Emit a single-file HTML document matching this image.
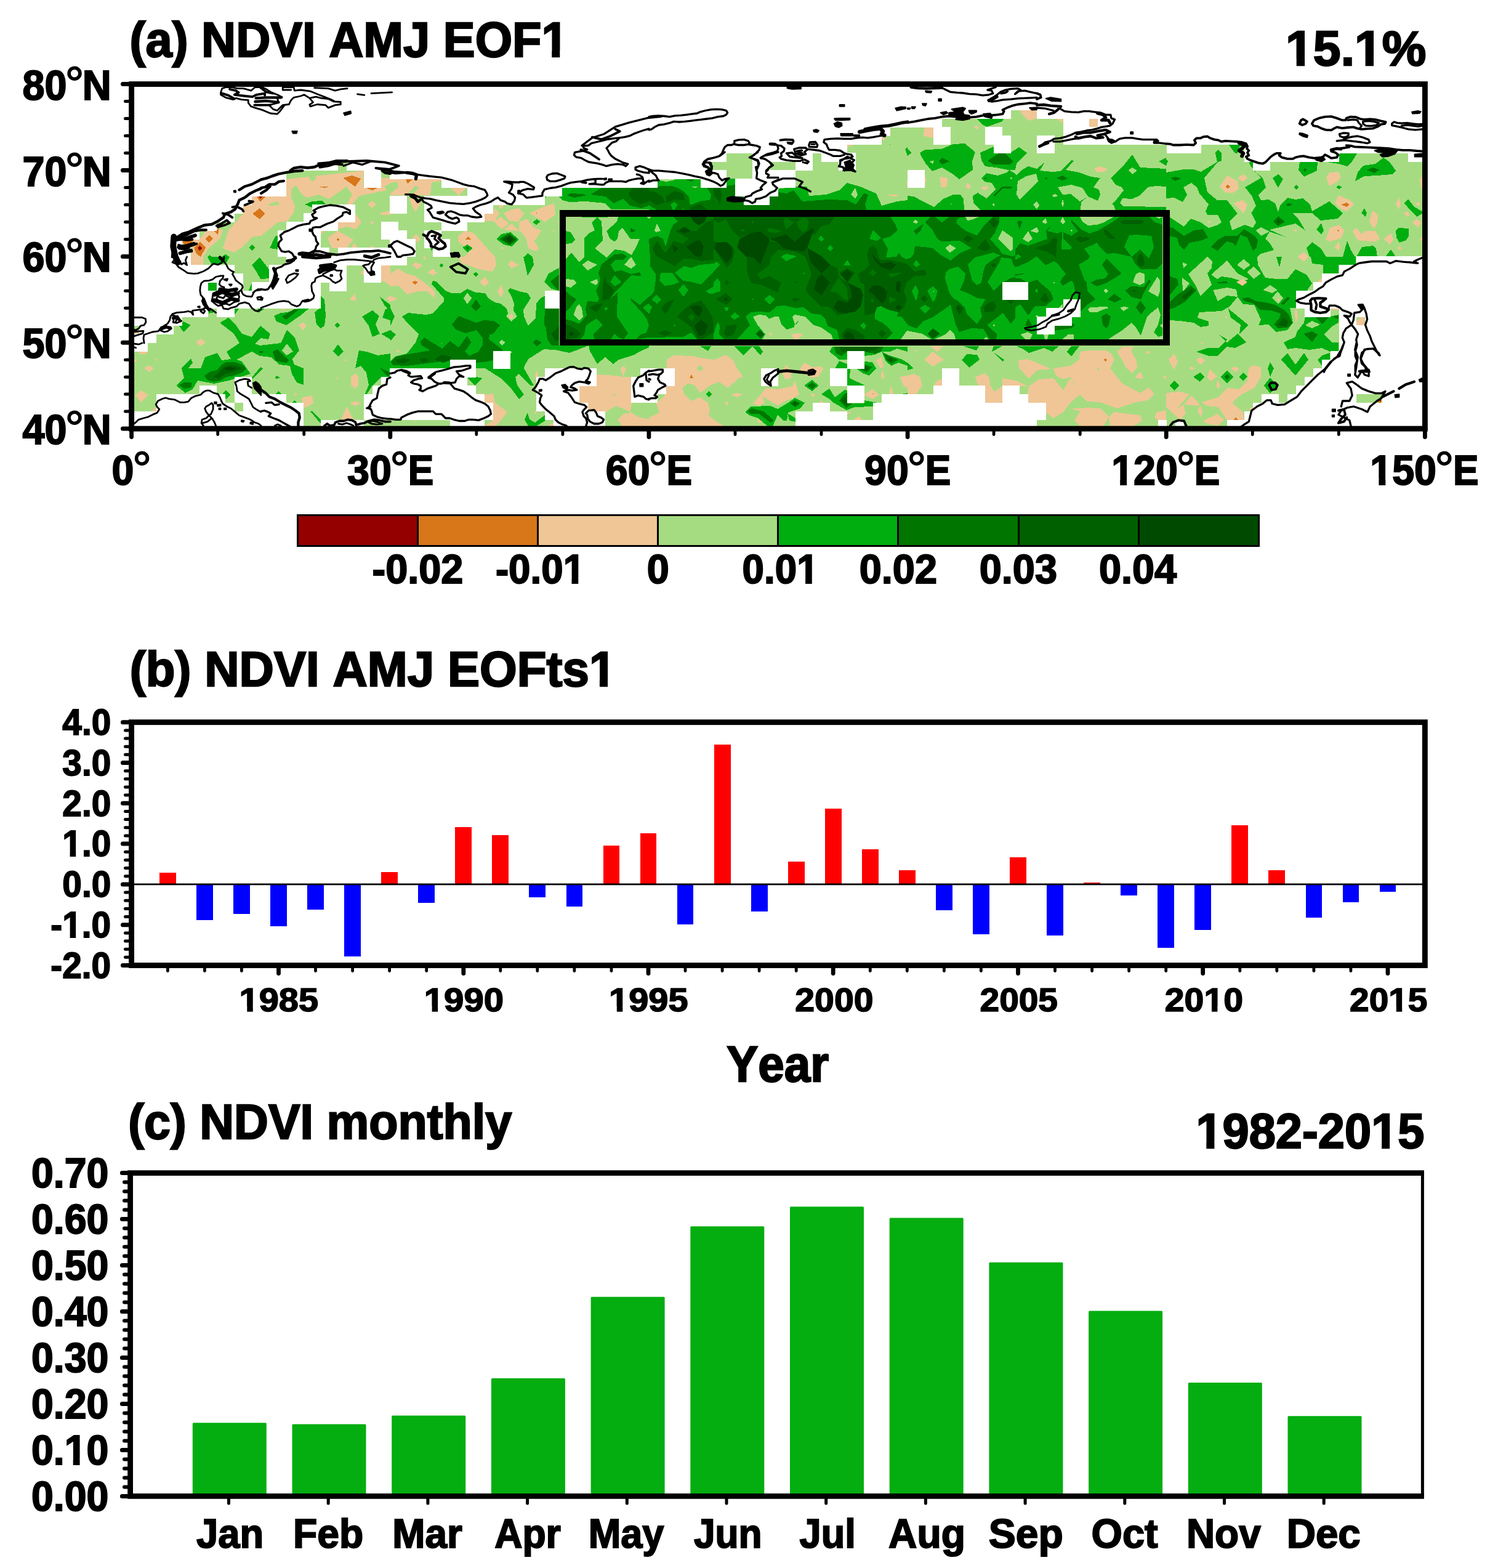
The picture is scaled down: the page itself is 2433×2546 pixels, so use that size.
<!DOCTYPE html>
<html lang="en"><head><meta charset="utf-8"><title>NDVI AMJ EOF1</title>
<style>html,body{margin:0;padding:0;background:#fff}svg{display:block}</style></head>
<body>
<svg width="2433" height="2546" viewBox="0 0 2433 2546">
<rect width="2433" height="2546" fill="#fff"/>
<clipPath id="mc"><rect x="213.6" y="136.6" width="2100.8" height="559.5"/></clipPath>
<g id="map" clip-path="url(#mc)" shape-rendering="crispEdges">
<rect x="213.6" y="136.6" width="2100.8" height="559.5" fill="#A5DC82"/>
<path fill="#F0C696" d="M310 417 313 403 296 397 296 390 324 388 335 375 353 370 362 374 357 388 339 403 330 417ZM362 403 371 374 395 347 395 334 409 319 465 319 465 291 590 277 590 303 604 309 618 303 618 289 634 289 634 298 624 303 628 309 583 318 572 332 563 332 572 316 563 303 534 323 518 316 498 321 489 314 480 300 473 307 473 321 479 334 478 343 467 359 451 361 424 383 411 384 391 403 380 410 368 406Z"/>
<path fill="#A5DC82" d="M501 289 507 284 515 289 507 295ZM435 332 451 327 454 333 438 334Z"/>
<path fill="#F0C696" d="M577 346 587 361 578 372 563 368 549 372 549 361 576 361ZM532 386 549 375 574 389 563 403 539 403ZM520 375 527 375 520 381ZM570 403 576 394 581 403ZM599 403 604 398 608 403ZM597 332 605 326 610 332 605 338ZM616 346 634 342 634 349 619 349ZM601 361 605 359 607 361 605 364Z"/>
<path fill="#D8761A" d="M557 289 572 285 586 290 577 303ZM518 303 535 303 527 305ZM592 304 615 304 605 309ZM410 347 422 338 430 347 422 356ZM415 317 433 317 423 328ZM333 388 340 382 346 388 339 394ZM347 375 356 371 354 381ZM315 402 325 393 334 402 326 417 319 412ZM296 392 315 388 310 397 299 397ZM546 389 549 386 551 389 549 392Z"/>
<path fill="#940000" d="M419 317 428 317 423 323ZM321 402 325 399 328 403 324 407Z"/>
<path fill="#00AE10" d="M495 332 507 327 523 326 530 332 507 332 507 337ZM438 403 447 384 452 382 452 405ZM404 402 409 397 414 402 409 407ZM337 417 340 414 345 417ZM360 417 366 413 373 417ZM357 524 371 516 384 529 393 542 409 547 423 529 439 542 436 551 424 549 414 558 422 561 456 557 466 536 479 549 486 569 475 583 478 592 493 598 493 625 482 621 474 607 471 594 454 592 440 580 422 578 409 571 384 584 393 587 407 607 371 618 348 623 321 618 313 632 301 638 286 626 299 614 295 598 310 582 313 589 306 598 326 598 333 580 353 573 360 585 375 583 368 571 389 557 380 542ZM338 459 353 459 353 473 338 473ZM409 430 422 418 438 439 438 452 423 453 417 442ZM290 528 298 522 310 528 298 539ZM445 513 456 508 467 507 486 500 503 500 487 513 465 528 449 522ZM520 480 527 486 529 513 527 529 521 533 514 527 511 507 520 500ZM588 514 605 504 616 513 610 527 617 542 605 547 599 529ZM617 482 634 495 634 507 624 495ZM626 502 634 500 634 520 621 516ZM619 542 634 536 634 551ZM583 569 595 571 613 577 634 574 634 612 619 613 605 626 595 641 592 641 599 625 595 605 586 594 577 598ZM548 523 552 528 548 533 544 528ZM549 559 558 571 549 579 541 570ZM449 610 455 613 449 615 446 613ZM362 639 367 633 374 641 367 648ZM447 641 452 635 458 641ZM474 655 478 650 483 655ZM504 668 507 667 521 682 521 688ZM337 417 373 417 368 426 357 430 344 430ZM381 500 389 500 381 511ZM418 500 431 500 420 508ZM403 473 409 460 409 473ZM338 500 348 507 339 509ZM408 614 423 596 427 598 411 615Z"/>
<path fill="#A5DC82" d="M466 558 476 571 465 577 458 569Z"/>
<path fill="#007600" d="M332 610 342 603 353 601 360 592 368 588 382 588 393 592 400 598 393 605 380 610 368 612 357 618 346 620 337 617ZM443 571 451 567 458 575 470 585 465 589 448 586 445 578ZM291 625 299 621 311 621 311 629 299 631ZM421 570 427 570 427 573 421 573ZM458 514 478 502 485 503 465 519ZM617 597 634 605 634 612 628 610Z"/>
<path fill="#006000" d="M346 612 355 606 362 597 371 593 384 594 393 598 380 604 366 607 355 615Z"/>
<path fill="#004A00" d="M365 597 375 596 384 598 373 602 366 601Z"/>
<path fill="#F0C696" d="M310 417 330 417 330 430 310 430ZM318 556 326 550 334 556 326 562ZM234 598 242 593 250 598 242 604ZM220 641 229 634 241 641 229 654ZM484 528 492 524 498 528 493 536ZM567 486 577 476 578 489ZM570 612 577 607 582 612 582 625 577 631 570 625ZM490 646 507 642 509 655 493 663ZM554 681 563 660 572 677 577 683ZM568 655 577 651 586 655 577 659ZM619 430 634 430 634 464 624 457 619 457ZM585 443 591 437 591 447ZM218 539 232 539 227 542 218 542ZM225 571 240 571 236 575 227 575ZM253 582 255 584 254 587ZM559 585 564 583 563 587ZM546 612 550 614 549 617ZM476 641 480 638 484 641ZM218 583 223 585 218 589ZM245 668 254 661 254 669ZM451 500 467 500 460 503ZM628 484 634 480 634 491ZM464 570 467 571 464 572ZM634 291 718 291 718 294 701 296 699 317 634 317Z"/>
<path fill="#A5DC82" d="M634 297 645 295 647 304 634 314ZM663 314 674 302 681 304 671 314Z"/>
<path fill="#F0C696" d="M730 304 759 304 745 317Z"/>
<path fill="#D8761A" d="M658 289 673 289 662 298Z"/>
<path fill="#F0C696" d="M664 321 685 327 675 344 669 334ZM786 346 801 346 804 338 811 346 804 359 786 359ZM809 332 819 332 813 340ZM818 346 831 340 843 338 851 347 842 360 827 359ZM802 360 813 352 827 363 815 372ZM818 373 831 363 843 375ZM843 361 856 355 867 370 879 374 871 388 867 390 875 403 871 408 858 403 855 388 849 379 843 375ZM860 346 880 337 900 330 902 349 885 360 871 353Z"/>
<path fill="#D8761A" d="M870 346 871 345 872 346 871 347Z"/>
<path fill="#F0C696" d="M744 383 755 375 768 378 777 387 791 403 804 417 755 417 764 406 750 397 744 392Z"/>
<path fill="#D8761A" d="M755 389 760 384 766 389Z"/>
<path fill="#F0C696" d="M670 386 675 380 683 388 678 394ZM812 402 820 402 815 405ZM898 372 900 375 898 377ZM904 360 908 360 906 362Z"/>
<path fill="#00AE10" d="M913 304 1054 304 1054 340 1021 340 992 340 983 330 952 327 925 328 913 325 906 317 913 317Z"/>
<path fill="#007600" d="M959 316 977 305 1054 304 1054 334 1041 338 1024 334 1012 323 997 330 983 319Z"/>
<path fill="#006000" d="M1021 314 1028 305 1054 305 1054 327 1039 332 1026 323Z"/>
<path fill="#007600" d="M921 317 927 314 947 315 952 317 932 321Z"/>
<path fill="#00AE10" d="M918 374 927 377 934 388 927 397 918 397ZM960 361 970 353 977 361 974 374 979 386 965 401 954 417 950 417 949 386 965 374ZM1001 352 1054 352 1054 417 1033 417 1039 388 1019 383 1010 370 1001 392 990 383 983 374 992 365ZM983 417 997 406 1015 406 1024 417Z"/>
<path fill="#007600" d="M1022 373 1027 370 1033 374 1026 377ZM992 417 1003 412 1015 417Z"/>
<path fill="#00AE10" d="M921 417 927 409 932 417ZM806 388 815 380 829 377 843 389 831 400 818 397Z"/>
<path fill="#007600" d="M811 388 827 379 840 389 828 398Z"/>
<path fill="#006000" d="M815 388 828 381 837 389 828 396Z"/>
<path fill="#004A00" d="M821 388 828 383 833 389 828 393Z"/>
<path fill="#00AE10" d="M751 402 759 397 768 403 759 410Z"/>
<path fill="#007600" d="M757 402 759 401 762 403 759 405Z"/>
<path fill="#00AE10" d="M865 361 872 356 878 360 871 365ZM852 417 857 411 865 417ZM885 317 889 317 886 322ZM699 403 703 403 702 408Z"/>
<path fill="#F0C696" d="M744 417 804 417 806 430 800 441 777 437 759 430 750 428ZM634 444 647 436 659 444 674 448 692 461 706 473 706 484 694 473 679 473 661 478 647 464 634 465Z"/>
<path fill="#D8761A" d="M669 458 674 456 679 458 674 462Z"/>
<path fill="#F0C696" d="M634 481 646 485 634 490ZM669 430 675 426 687 431 678 437ZM694 443 703 436 710 444 703 447ZM824 429 830 423 843 430 831 436ZM779 458 787 449 794 458 787 465ZM808 473 814 463 818 473 814 483ZM687 417 692 417 690 423ZM643 571 646 567 649 571ZM941 612 969 612 969 608 1001 610 1012 612 1026 612 1026 654 1024 669 1001 659 983 669 955 668 955 655 941 655Z"/>
<path fill="#A5DC82" d="M996 641 998 638 999 641 998 644Z"/>
<path fill="#F0C696" d="M1008 599 1012 594 1017 599 1012 612ZM1003 681 1012 672 1026 670 1037 677 1054 681 1054 692 1010 692ZM786 641 801 639 804 654 824 669 813 683 804 692 786 692 800 683 800 655 786 655ZM773 639 786 639 786 641 773 641ZM869 612 871 601 875 612ZM867 670 871 666 871 674ZM672 683 677 683 674 685ZM889 692 899 686 899 692Z"/>
<path fill="#00AE10" d="M653 514 663 508 692 511 703 509 721 489 721 484 701 461 703 456 708 457 724 472 733 476 748 476 759 469 773 475 788 476 793 484 804 491 813 493 823 501 825 509 822 514 830 522 840 514 834 504 835 493 831 482 825 471 829 468 843 473 857 476 862 484 850 503 851 514 858 529 870 516 871 493 878 484 886 480 886 500 908 500 908 563 885 566 858 583 852 594 851 598 867 626 862 626 842 607 837 612 840 625 851 641 843 648 831 632 813 614 788 598 773 598 773 612 784 614 771 626 760 614 760 612 773 612 773 598 732 598 634 599 634 587 641 579 661 574 675 556 680 543 664 527Z"/>
<path fill="#A5DC82" d="M753 484 759 475 766 484 759 494ZM810 556 815 552 821 556 815 561ZM827 571 829 569 831 572 829 574Z"/>
<path fill="#F0C696" d="M825 514 830 509 834 514 830 519Z"/>
<path fill="#007600" d="M734 527 745 513 773 524 786 520 802 521 812 528 801 542 795 543 794 551 815 567 818 571 801 571 801 585 791 587 773 589 732 585 701 589 661 594 638 593 635 587 643 579 663 575 699 569 684 560 683 554 689 548 718 566 731 554 745 564 759 545 765 556 755 571 762 578 777 571 784 560 784 549 774 536 756 541 740 535ZM765 498 773 486 781 498 773 505ZM865 556 871 551 880 556 872 562ZM885 500 908 500 908 563 898 564 889 551 887 533 884 527Z"/>
<path fill="#00AE10" d="M884 458 891 444 908 435 908 473 894 468Z"/>
<path fill="#007600" d="M894 457 908 446 908 471 903 468ZM799 501 801 500 802 502ZM744 487 745 486 746 488Z"/>
<path fill="#006000" d="M643 584 656 582 668 584 656 590 645 589ZM680 584 689 581 697 585 689 589ZM706 583 718 576 733 579 732 585 719 589ZM895 542 908 529 908 551 903 554Z"/>
<path fill="#A5DC82" d="M716 557 717 556 718 558Z"/>
<path fill="#00AE10" d="M850 417 865 417 867 430 857 448 853 430ZM713 431 717 428 721 431 717 434ZM768 445 773 442 777 445 773 449ZM634 500 641 514 634 529ZM634 536 643 543 634 554ZM852 681 857 670 860 681 869 686 885 674 886 683 871 692 858 692ZM956 561 1054 561 1054 564 1041 570 1028 577 1005 584 996 591 983 580 970 591 958 570ZM880 561 956 561 925 573 902 568 880 567ZM1054 289 1138 289 1179 291 1194 291 1194 316 1208 316 1263 307 1291 303 1311 303 1314 318 1341 316 1363 309 1376 297 1397 303 1423 314 1432 334 1457 327 1474 325 1474 352 1054 352Z"/>
<path fill="#A5DC82" d="M1382 316 1389 305 1393 316 1389 323Z"/>
<path fill="#F0C696" d="M1441 316 1459 316 1455 319 1444 318ZM1375 234 1390 234 1375 239ZM1431 224 1439 221 1435 229ZM1472 296 1474 294 1474 305Z"/>
<path fill="#00AE10" d="M1470 242 1474 239 1474 253ZM1444 234 1446 234 1446 236Z"/>
<path fill="#007600" d="M1054 304 1092 303 1110 311 1123 304 1148 304 1159 316 1179 304 1194 305 1194 318 1208 318 1208 331 1249 331 1263 312 1278 314 1289 309 1303 327 1345 324 1376 325 1390 332 1403 314 1410 316 1405 332 1410 352 1054 352Z"/>
<path fill="#F0C696" d="M1083 584 1094 577 1123 578 1144 582 1161 584 1179 576 1191 585 1197 598 1207 612 1200 614 1182 630 1168 620 1153 626 1137 638 1128 625 1117 623 1109 629 1110 639 1123 651 1137 645 1150 654 1153 668 1150 674 1166 686 1177 692 1054 692 1054 678 1071 670 1066 655 1080 641 1080 627 1094 627 1094 599 1083 599Z"/>
<path fill="#A5DC82" d="M1132 598 1137 592 1142 598 1137 604Z"/>
<path fill="#D8761A" d="M1120 614 1123 608 1126 614Z"/>
<path fill="#F0C696" d="M1188 641 1195 638 1207 640 1197 645ZM1177 654 1180 651 1183 655 1180 658ZM1223 655 1235 641 1244 630 1263 632 1287 627 1291 617 1298 641 1289 646 1278 650 1263 658 1249 650 1238 643 1242 654 1233 659ZM1270 605 1277 592 1285 605 1285 614 1275 616ZM1300 598 1306 589 1320 596 1334 595 1337 599 1329 612 1319 613 1300 605ZM1316 641 1320 639 1324 641 1320 645ZM1249 540 1252 540 1254 542 1249 545ZM1285 542 1305 541 1294 551ZM1229 683 1234 680 1239 683 1234 687ZM1423 585 1432 580 1435 596 1430 598ZM1431 607 1435 601 1436 614 1432 616ZM1403 641 1417 632 1428 641 1417 648Z"/>
<path fill="#D8761A" d="M1416 640 1418 639 1419 640Z"/>
<path fill="#F0C696" d="M1444 641 1447 625 1451 641ZM1461 612 1474 610 1474 630 1468 627ZM1375 669 1383 669 1375 674ZM1385 683 1394 676 1403 683ZM1329 655 1334 651 1338 655Z"/>
<path fill="#00AE10" d="M1137 562 1155 562 1150 570ZM1193 562 1222 562 1207 577ZM1222 562 1233 562 1239 571 1235 577ZM1210 669 1220 660 1251 659 1263 664 1280 654 1291 646 1307 654 1300 663 1280 670 1278 683 1272 683 1263 674 1255 692 1247 692 1231 679 1217 674Z"/>
<path fill="#007600" d="M1214 668 1221 663 1240 668 1247 674 1257 683 1251 686 1233 672 1220 672ZM1283 655 1291 650 1300 655 1292 661Z"/>
<path fill="#006000" d="M1287 655 1291 652 1296 655 1291 658Z"/>
<path fill="#00AE10" d="M1279 671 1292 679 1292 685 1282 683ZM1306 626 1319 617 1330 626 1319 635Z"/>
<path fill="#007600" d="M1311 626 1319 621 1326 626 1319 632Z"/>
<path fill="#00AE10" d="M1146 640 1151 635 1157 640 1151 645ZM1347 571 1352 563 1474 563 1474 571 1457 566 1446 571 1432 571 1421 576 1403 578 1403 571 1376 571 1376 584 1363 584 1356 578Z"/>
<path fill="#007600" d="M1355 563 1435 563 1430 571 1421 574 1403 571 1376 571 1367 578 1358 574Z"/>
<path fill="#006000" d="M1363 563 1430 563 1421 569 1403 570 1376 570 1367 571Z"/>
<path fill="#00AE10" d="M1356 599 1363 586 1376 591 1376 599ZM1390 598 1403 587 1417 588 1423 598 1412 610 1403 607Z"/>
<path fill="#007600" d="M1394 598 1405 592 1416 596 1408 605Z"/>
<path fill="#006000" d="M1400 598 1407 595 1411 599 1407 602Z"/>
<path fill="#00AE10" d="M1432 571 1444 577 1464 583 1474 589 1474 594 1459 589 1448 594 1439 587Z"/>
<path fill="#007600" d="M1435 574 1444 578 1459 584 1448 591 1440 585Z"/>
<path fill="#006000" d="M1442 584 1447 581 1451 584 1447 587Z"/>
<path fill="#00AE10" d="M1375 599 1381 599 1380 614 1405 626 1394 627 1376 627 1376 618ZM1334 640 1347 631 1356 645 1372 633 1376 634 1376 655 1403 655 1403 650 1432 655 1418 655 1418 660 1388 661 1375 666 1354 654 1347 648Z"/>
<path fill="#007600" d="M1363 651 1372 639 1376 638 1376 655 1385 655 1375 662Z"/>
<path fill="#006000" d="M1367 651 1374 643 1376 655 1375 659Z"/>
<path fill="#00AE10" d="M1461 641 1474 638 1474 641Z"/>
<path fill="#F0C696" d="M1655 178 1684 178 1684 192 1671 196 1664 190ZM1716 193 1726 193 1726 200ZM1768 193 1783 193 1783 207 1768 207ZM1501 206 1516 206 1516 224 1500 221ZM1581 206 1586 204 1589 207 1586 210ZM1570 194 1574 194 1573 197ZM1641 190 1643 190 1643 194ZM1527 287 1539 289 1538 304 1528 304ZM1568 303 1572 296 1577 303 1573 307ZM1593 304 1602 302 1605 305 1599 309ZM1776 274 1785 270 1798 274 1796 278 1783 280ZM1501 289 1505 289 1502 303Z"/>
<path fill="#00AE10" d="M1586 193 1630 193 1628 197 1603 206 1595 202ZM1474 242 1481 248 1474 253ZM1494 248 1503 243 1529 242 1548 234 1567 233 1584 247 1579 262 1580 276 1558 291 1548 283 1530 272 1514 278 1503 265 1496 253Z"/>
<path fill="#007600" d="M1525 261 1530 256 1542 262 1530 267Z"/>
<path fill="#A5DC82" d="M1509 262 1517 261 1515 266Z"/>
<path fill="#00AE10" d="M1592 248 1614 238 1614 248 1641 248 1655 239 1668 248 1651 266 1649 276 1637 276 1617 272 1600 270 1594 260Z"/>
<path fill="#007600" d="M1604 261 1622 249 1631 248 1645 262 1641 267 1614 267Z"/>
<path fill="#00AE10" d="M1594 289 1602 281 1620 285 1635 280 1639 276 1646 280 1651 284 1658 277 1670 270 1684 274 1695 265 1697 263 1689 277 1709 279 1723 278 1740 260 1744 261 1731 276 1753 280 1772 287 1787 289 1776 304 1785 308 1787 316 1783 326 1774 322 1767 319 1756 328 1755 341 1593 341 1581 330 1580 318 1588 313 1602 322 1617 307 1611 297 1599 295Z"/>
<path fill="#A5DC82" d="M1653 294 1667 286 1683 282 1686 294 1656 324 1651 316ZM1718 304 1740 300 1758 305 1767 319 1754 327 1739 315 1726 316ZM1708 317 1714 315 1719 318 1712 320ZM1678 332 1684 327 1688 333 1684 340ZM1724 331 1726 323 1728 331 1726 336ZM1611 332 1615 330 1615 335ZM1640 289 1642 287 1644 290 1642 291Z"/>
<path fill="#007600" d="M1716 289 1726 285 1734 290 1725 293ZM1696 289 1699 288 1702 290 1699 291ZM1598 290 1600 288 1602 290 1600 291ZM1614 317 1627 303 1643 303 1643 306 1628 306 1615 319Z"/>
<path fill="#00AE10" d="M1474 318 1484 319 1499 327 1517 336 1532 323 1548 316 1560 316 1565 323 1566 341 1474 341Z"/>
<path fill="#A5DC82" d="M1543 331 1545 330 1545 333Z"/>
<path fill="#00AE10" d="M1804 289 1823 271 1839 251 1852 272 1894 274 1894 303 1877 302 1864 304 1852 317 1839 323 1823 322 1810 332 1805 332 1814 323 1825 309 1822 304 1812 300Z"/>
<path fill="#A5DC82" d="M1833 276 1839 272 1847 277 1839 283Z"/>
<path fill="#00AE10" d="M1882 262 1894 256 1894 269ZM1808 332 1817 323 1823 322 1819 330 1825 335 1894 336 1894 341 1812 341Z"/>
<path fill="#F0C696" d="M1711 598 1739 594 1753 584 1754 571 1770 569 1796 569 1805 574 1810 584 1803 598 1810 607 1823 623 1852 638 1866 629 1875 640 1864 650 1841 654 1814 663 1787 653 1765 652 1754 641 1754 634 1738 612 1727 616 1715 610Z"/>
<path fill="#D8761A" d="M1792 584 1796 582 1798 585 1795 587Z"/>
<path fill="#A5DC82" d="M1781 599 1783 597 1785 600 1783 602Z"/>
<path fill="#F0C696" d="M1669 641 1671 627 1687 616 1711 614 1727 634 1738 614 1754 634 1754 641 1738 654 1727 669 1711 679 1697 669 1697 655 1669 655ZM1740 663 1754 663 1765 662 1787 663 1801 677 1792 692 1754 692 1745 683 1754 668ZM1801 677 1810 669 1832 672 1852 674 1855 683 1841 692 1803 692ZM1654 585 1669 583 1684 589 1707 599 1684 601 1671 615 1664 607 1655 598ZM1599 655 1600 627 1608 625 1615 636 1628 627 1628 614 1651 618 1669 627 1655 627 1628 627 1628 655ZM1584 612 1599 606 1607 614 1608 625 1600 627 1588 625ZM1474 610 1485 607 1494 612 1498 626 1487 641 1474 641ZM1501 584 1515 571 1533 584 1515 595ZM1511 562 1532 562 1522 571ZM1516 627 1523 617 1530 616 1530 627ZM1814 571 1823 563 1841 563 1837 571 1846 585 1847 596 1839 606 1828 596 1823 585ZM1843 612 1852 603 1857 614 1850 615ZM1879 669 1894 666 1894 690 1880 683 1875 677ZM1860 571 1866 570 1868 573 1865 575ZM1888 612 1894 610 1894 616ZM1485 570 1487 567 1489 571Z"/>
<path fill="#00AE10" d="M1564 562 1590 562 1586 569ZM1611 571 1614 562 1628 562ZM1651 562 1720 562 1709 571 1696 565 1671 573 1662 567ZM1733 571 1740 562 1753 562 1740 579ZM1562 585 1570 575 1587 576 1591 584 1574 597ZM1615 573 1631 584 1628 587ZM1474 589 1483 598 1474 601ZM1894 280 1923 275 1939 275 1950 279 1977 263 1974 248 1978 243 1984 248 1984 261 1978 263 1956 289 1961 312 1977 325 1993 325 2010 347 2033 345 2040 334 2033 318 2022 304 2048 289 2031 269 2028 262 2035 262 2035 276 2051 289 2056 304 2044 317 2048 325 2061 324 2071 330 2076 344 2080 332 2091 321 2104 324 2116 322 2128 332 2131 343 2159 327 2181 346 2173 355 2145 358 2131 346 2100 346 2109 356 2120 374 2104 363 2062 373 2091 386 2102 390 2098 403 2069 406 2048 412 2042 417 1894 417Z"/>
<path fill="#A5DC82" d="M1894 322 1907 321 1921 328 1928 316 1922 304 1935 297 1944 304 1948 314 1963 332 1958 343 1961 349 1978 349 1984 361 1978 365 1963 370 1950 361 1934 355 1923 368 1899 352 1894 352ZM1997 359 2010 347 2032 345 2040 361 2035 370 2022 365 2001 374ZM2040 374 2048 369 2062 376 2048 383ZM2055 388 2062 376 2091 386 2102 390 2098 403 2069 406 2062 394Z"/>
<path fill="#007600" d="M1901 289 1909 287 1918 290 1909 294ZM1894 368 1905 370 1923 383 1939 374 1954 372 1962 386 1950 391 1932 394 1923 406 1915 397 1912 386 1899 383 1894 383ZM1967 401 1977 390 1990 383 2010 383 2020 372 2037 382 2043 390 2041 401 2035 407 2026 386 2015 381 2007 399 2001 394 1993 392 1977 407ZM2088 332 2093 330 2100 332 2091 335ZM2068 360 2076 351 2087 360 2076 367Z"/>
<path fill="#006000" d="M2073 360 2076 356 2081 360 2076 363Z"/>
<path fill="#00AE10" d="M2067 289 2076 283 2084 290 2076 305ZM2101 304 2105 300 2109 304 2105 308ZM2109 276 2111 263 2140 262 2139 277 2118 287Z"/>
<path fill="#007600" d="M2116 276 2119 273 2122 276 2119 279Z"/>
<path fill="#00AE10" d="M2155 263 2174 259 2176 249 2205 248 2196 262 2188 270 2174 266ZM2201 294 2205 280 2214 269 2234 266 2247 256 2257 263 2267 277 2261 283 2237 285 2216 286Z"/>
<path fill="#007600" d="M2220 276 2230 272 2241 276 2232 281Z"/>
<path fill="#00AE10" d="M2170 304 2174 301 2180 304 2175 307ZM2211 346 2216 338 2220 346 2218 352ZM2138 373 2146 362 2150 374 2146 381ZM2281 330 2287 323 2297 336 2310 343 2310 347 2301 352 2290 341ZM2267 374 2272 370 2288 371 2288 383 2284 390 2273 394 2268 386ZM2122 403 2131 393 2145 403 2154 417 2127 417ZM2181 417 2188 391 2194 406 2201 417ZM2203 417 2212 401 2230 399 2235 403 2237 417ZM2250 417 2259 405 2267 417ZM1995 234 2015 234 2010 249 2006 249ZM1894 258 1897 262 1894 269Z"/>
<path fill="#F0C696" d="M1981 303 1993 285 2010 294 2012 307 2003 313 1990 313Z"/>
<path fill="#D8761A" d="M1990 303 1994 300 1998 304 1994 306Z"/>
<path fill="#F0C696" d="M2009 289 2020 283 2026 289 2019 295ZM2003 330 2019 325 2026 333 2020 347 2015 342ZM2154 289 2159 280 2174 279 2178 289 2169 297 2159 302ZM2168 330 2174 317 2192 325 2200 332 2187 343 2176 338Z"/>
<path fill="#D8761A" d="M2178 332 2187 329 2192 332 2187 336Z"/>
<path fill="#F0C696" d="M2153 389 2160 370 2174 365 2184 374 2178 387 2160 392Z"/>
<path fill="#D8761A" d="M2172 374 2174 373 2175 375 2173 376Z"/>
<path fill="#F0C696" d="M2224 359 2230 342 2238 350 2237 363 2231 372ZM2197 374 2203 370 2211 380 2218 375 2234 375 2241 388 2234 392 2207 391 2202 386ZM2247 388 2259 379 2263 388 2258 397ZM2267 331 2272 320 2275 332 2272 340ZM2279 346 2287 343 2289 349 2286 352ZM2293 361 2301 356 2309 361 2303 369ZM2298 331 2304 328 2308 331 2303 334ZM2306 289 2310 287 2310 309 2307 303ZM2168 401 2174 392 2177 401 2174 408ZM2107 417 2118 409 2125 417ZM1961 360 1965 358 1967 361 1963 362ZM2101 374 2104 372 2107 375 2103 376ZM2269 403 2273 400 2277 403 2273 406ZM2306 388 2310 383 2310 393Z"/>
<path fill="#00AE10" d="M1899 417 2042 417 2043 430 2055 451 2073 453 2091 453 2104 437 2122 446 2131 460 2122 473 2105 473 2105 500 2095 500 2100 524 2091 536 2073 539 2060 527 2044 528 2048 519 2037 495 2019 494 2010 482 1997 498 1984 505 1948 507 1945 516 1963 522 1963 529 1950 531 1939 524 1916 521 1899 520Z"/>
<path fill="#A5DC82" d="M1930 445 1961 417 1969 424 1968 435 1961 444 1968 462 1950 481 1941 462ZM1921 426 1928 429 1922 436ZM1920 451 1932 460 1921 474ZM1967 446 1993 423 2010 444 2028 453 2019 457 1999 451 1984 449 1977 453ZM2009 430 2020 421 2031 430 2020 438ZM2025 442 2036 433 2048 444 2036 453ZM1970 471 1993 467 2008 470 2010 482 1993 480 1978 489ZM2051 471 2063 463 2075 471 2066 476ZM2066 484 2075 473 2084 484 2076 494Z"/>
<path fill="#F0C696" d="M2008 458 2019 453 2026 458 2018 464ZM2074 486 2076 484 2079 486 2076 489ZM1989 514 1993 514 1994 517Z"/>
<path fill="#007600" d="M1899 448 1912 453 1914 462 1905 473 1899 480ZM1910 480 1934 464 1943 471 1923 491 1907 500 1899 502 1899 491ZM2018 484 2028 483 2040 489 2055 491 2071 495 2084 502 2093 511 2099 524 2091 532 2075 533 2069 527 2078 516 2080 509 2064 504 2046 503 2037 493 2019 488ZM1977 458 1993 457 1993 460 1978 460ZM2080 493 2091 482 2095 484 2084 495Z"/>
<path fill="#006000" d="M1919 482 1935 470 1939 473 1925 486ZM2075 528 2084 516 2093 522 2089 531Z"/>
<path fill="#00AE10" d="M2129 417 2202 417 2202 430 2174 430 2174 445 2149 445 2149 430 2131 428ZM2073 417 2082 417 2078 434ZM2085 556 2104 547 2107 538 2118 524 2120 514 2159 514 2174 511 2174 571 2160 571 2147 565 2127 568 2104 565 2091 567Z"/>
<path fill="#A5DC82" d="M2120 528 2131 521 2144 527 2131 533ZM2150 543 2165 529 2174 524 2174 556 2163 556Z"/>
<path fill="#007600" d="M2117 542 2131 538 2140 543 2131 556ZM2135 514 2159 514 2147 526ZM2164 514 2174 512 2174 518Z"/>
<path fill="#00AE10" d="M1943 571 1961 565 1979 565 1993 551 1979 543 1993 556 2010 542 2024 556 2006 565 1993 563 1977 578 1963 578ZM1995 501 2028 528 2013 542 2015 527 1999 516ZM2081 584 2091 573 2104 592 2118 573 2125 584 2104 610ZM2140 584 2147 577 2160 573 2160 585 2147 585 2147 594ZM2059 598 2063 588 2069 598 2063 612ZM2053 626 2063 613 2075 626 2063 639ZM1938 612 1949 605 1956 612 1949 620ZM1982 612 1993 602 2003 612 1993 622Z"/>
<path fill="#007600" d="M1988 612 1993 608 1997 612 1993 617Z"/>
<path fill="#00AE10" d="M2012 612 2019 605 2026 612 2019 618ZM1899 626 1907 618 1915 626 1907 634Z"/>
<path fill="#F0C696" d="M1898 584 1907 574 1913 587 1907 601ZM1943 584 1950 580 1957 585 1950 593ZM1931 598 1935 595 1941 599 1935 600ZM1999 598 2007 595 2013 599 2007 604ZM1961 612 1965 600 1977 612 1965 619ZM1975 625 1978 617 1982 627 1978 631ZM1894 638 1916 636 1932 640 1912 663 1916 681 1894 661ZM1923 657 1935 642 1947 655 1948 659ZM1951 653 1979 645 1993 630 2013 632 2026 618 2028 598 2035 593 2048 596 2048 612 2037 630 2019 639 2010 645 2001 654 2019 669 2021 683 1993 683 1979 661 1961 659ZM1954 683 1977 672 1988 681 1979 691 1961 688ZM1945 666 1950 658 1953 668 1950 678ZM1912 663 1923 657 1925 672 1916 683Z"/>
<path fill="#D8761A" d="M2003 683 2007 677 2012 683Z"/>
<path fill="#F0C696" d="M2103 504 2106 501 2108 516 2104 524ZM2139 458 2147 451 2147 459ZM2202 522 2212 514 2216 514 2216 528 2202 528ZM2159 500 2174 500 2174 504 2163 503ZM2107 417 2125 417 2118 425ZM1949 556 1952 555 1954 557 1951 558ZM2028 663 2035 661 2035 669Z"/>
<path fill="#D8761A" d="M2237 653 2243 643 2243 655Z"/>
<path fill="#940000" d="M2240 651 2243 646 2243 652Z"/>
<path fill="#00AE10" d="M919 352 1159 352 1159 551 919 551Z"/>
<path fill="#A5DC82" d="M919 352 970 353 961 361 966 374 956 379 949 387 949 417 941 426 928 410 919 421 919 396 928 395 934 389 927 377 919 375ZM970 353 1004 352 1002 360 985 375 991 388 998 392 1003 387 1005 375 1011 370 1024 388 1039 388 1033 401 1026 414 1013 407 998 405 985 418 966 403 979 390 977 360ZM945 430 955 423 970 430 955 439ZM1014 430 1025 417 1033 430 1025 436ZM919 453 931 454 937 459 927 467 919 465ZM958 458 970 453 971 459 968 463ZM932 511 936 498 941 494 945 501 947 514 941 521ZM1063 375 1067 363 1073 375 1065 377ZM1050 352 1058 352 1054 355Z"/>
<path fill="#007600" d="M972 443 977 429 998 413 1011 412 1018 416 1013 422 999 422 992 430 998 441 1009 439 1025 445 1039 442 1041 446 1039 448 1025 447 1011 462 998 476 991 485 969 507 957 500 968 495 973 485 968 472 973 462 975 452Z"/>
<path fill="#00AE10" d="M991 458 998 447 1010 458 998 465Z"/>
<path fill="#006000" d="M979 467 983 447 985 459 998 471 991 485 979 493 969 507 957 500 968 495 979 485Z"/>
<path fill="#007600" d="M1054 388 1067 383 1077 388 1081 401 1089 374 1094 364 1101 360 1093 352 1159 352 1159 428 1136 430 1123 435 1111 432 1096 443 1110 456 1124 458 1139 462 1159 441 1159 551 1132 551 1123 540 1110 547 1052 548 1034 551 1039 544 1050 540 1054 528 1051 519 1045 510 1025 488 1024 484 1039 495 1062 475 1065 455 1065 445 1056 432 1056 420Z"/>
<path fill="#00AE10" d="M1071 456 1073 443 1092 443 1103 458 1094 462 1080 464ZM1102 471 1110 461 1118 471 1110 482ZM1058 486 1066 479 1074 486 1067 493ZM1044 499 1053 493 1059 499 1054 510ZM1147 388 1152 381 1157 388 1152 409ZM1135 374 1139 372 1142 375 1139 377ZM1146 473 1159 465 1159 477 1153 477ZM1094 528 1096 527 1097 529 1095 530Z"/>
<path fill="#006000" d="M1060 403 1067 392 1081 411 1094 391 1109 396 1118 387 1110 383 1097 375 1113 368 1123 375 1131 375 1139 368 1146 361 1159 357 1159 422 1139 424 1123 420 1110 420 1096 432 1065 415ZM1073 500 1081 492 1096 485 1089 498 1081 511ZM1099 514 1113 501 1123 493 1139 488 1149 501 1157 515 1159 527 1159 540 1139 551 1132 548 1123 531ZM1069 541 1081 536 1092 541 1081 546Z"/>
<path fill="#004A00" d="M1103 375 1110 369 1122 375 1111 379ZM1114 401 1128 392 1137 390 1143 400 1140 415 1136 418 1129 415ZM1122 352 1148 352 1144 361 1135 366 1126 360ZM1092 398 1102 403 1095 411ZM1120 498 1131 496 1139 497 1141 505 1135 515 1128 507ZM1128 528 1139 519 1150 528 1144 543 1136 546 1131 537Z"/>
<path fill="#007600" d="M1117 514 1124 510 1128 514 1124 522ZM1104 389 1109 387 1113 389 1109 390ZM919 519 927 520 941 526 953 512 951 501 954 489 969 490 991 485 1003 475 1002 514 1020 541 1013 551 1005 548 998 542 992 551 966 551 963 543 979 528 969 517 952 528 949 543 943 551 919 551Z"/>
<path fill="#00AE10" d="M982 499 988 500 983 505Z"/>
<path fill="#006000" d="M957 500 969 494 979 493 969 507ZM919 527 927 529 938 536 943 542 938 548 927 551 919 551Z"/>
<path fill="#004A00" d="M922 542 927 538 933 543 927 546Z"/>
<path fill="#007600" d="M919 473 927 480 936 486 927 498 919 507ZM1023 375 1025 370 1033 375 1026 377ZM1159 352 1404 352 1404 551 1159 551Z"/>
<path fill="#006000" d="M1159 352 1356 352 1347 364 1333 368 1322 383 1320 370 1303 382 1291 392 1277 381 1250 388 1235 376 1220 378 1202 386 1190 375 1179 356 1167 362 1159 357ZM1197 403 1201 388 1220 378 1235 376 1249 387 1250 391 1263 394 1273 403 1290 407 1305 408 1312 401 1316 417 1333 415 1348 430 1360 435 1363 451 1376 458 1398 469 1402 479 1398 497 1390 506 1374 509 1360 512 1347 498 1333 498 1310 475 1309 469 1318 445 1308 417 1290 408 1263 406 1252 417 1250 430 1230 445 1236 454 1249 448 1269 459 1263 475 1236 462 1220 460 1213 441 1213 418ZM1159 392 1164 393 1180 393 1190 401 1193 409 1189 425 1180 435 1172 422 1159 403ZM1162 486 1179 476 1190 486 1180 495ZM1177 458 1180 454 1184 459 1180 463ZM1285 486 1291 483 1300 486 1292 490ZM1290 458 1292 456 1294 458 1292 460ZM1175 542 1180 528 1197 527 1192 543 1180 547ZM1367 543 1376 532 1391 537 1404 545 1404 551 1368 551ZM1227 542 1234 536 1241 543 1235 550ZM1393 445 1404 439 1404 462 1398 459ZM1363 443 1376 435 1389 443 1377 459Z"/>
<path fill="#004A00" d="M1198 403 1201 388 1220 378 1235 376 1249 387 1250 391 1240 417 1235 430 1224 418 1213 417ZM1250 388 1277 381 1291 392 1303 382 1320 370 1322 375 1318 383 1312 401 1305 408 1290 407 1273 403 1263 394ZM1312 403 1333 415 1348 430 1335 444 1318 428 1314 417ZM1322 470 1327 452 1334 445 1348 459 1334 480ZM1354 499 1361 487 1376 492 1384 481 1381 467 1376 459 1398 469 1402 479 1398 497 1390 506 1374 509 1361 507ZM1365 445 1376 438 1385 444 1376 458ZM1160 403 1164 394 1180 393 1189 401 1189 417 1180 428ZM1175 486 1179 483 1183 486 1179 489ZM1371 543 1376 538 1384 541 1389 551 1373 551ZM1233 543 1235 542 1237 543 1235 544Z"/>
<path fill="#007600" d="M1202 374 1207 372 1211 375 1207 376ZM1220 361 1222 358 1224 361 1222 363ZM1245 373 1250 370 1271 375 1260 378 1249 377ZM1272 358 1277 354 1290 361 1277 372ZM1294 361 1301 354 1310 354 1314 361 1310 375 1303 377 1297 370ZM1316 403 1320 394 1330 401 1321 406ZM1348 473 1362 451 1376 468 1377 488 1368 484 1361 476ZM1385 458 1390 445 1397 458 1390 462Z"/>
<path fill="#00AE10" d="M1329 388 1333 382 1338 388 1334 393ZM1343 403 1348 398 1354 403 1348 408ZM1268 417 1277 412 1294 416 1277 424ZM1370 431 1376 422 1382 431ZM1241 486 1250 479 1259 486 1250 494ZM1186 514 1193 507 1202 514 1193 519ZM1176 500 1180 499 1184 500 1180 506ZM1159 428 1164 425 1169 430 1159 440ZM1159 458 1166 452 1170 459 1170 473 1159 476ZM1220 486 1222 485 1223 486 1222 488ZM1304 444 1306 443 1307 444 1306 446ZM1159 543 1163 529 1166 523 1169 529 1168 543 1177 551 1159 551ZM1397 528 1404 523 1404 536ZM1211 514 1220 507 1232 506 1250 507 1262 497 1274 496 1291 500 1305 499 1318 509 1334 511 1341 519 1344 529 1360 536 1363 551 1197 551 1218 528Z"/>
<path fill="#006000" d="M1227 542 1234 536 1241 543 1235 550Z"/>
<path fill="#A5DC82" d="M1223 514 1232 511 1243 512 1249 518 1258 514 1265 514 1269 527 1278 535 1290 531 1291 526 1287 514 1291 511 1307 514 1322 528 1334 532 1350 543 1353 551 1238 551 1243 543 1230 527Z"/>
<path fill="#00AE10" d="M1291 526 1297 521 1295 525 1292 527Z"/>
<path fill="#F0C696" d="M1285 543 1295 541 1305 543 1295 551 1290 551ZM1249 540 1255 543 1250 545Z"/>
<path fill="#007600" d="M1404 352 1649 352 1649 551 1404 551Z"/>
<path fill="#006000" d="M1408 413 1411 403 1418 399 1425 405 1426 416 1430 422 1446 422 1472 428 1485 441 1501 438 1505 444 1501 448 1486 448 1473 458 1468 472 1473 486 1469 498 1460 507 1443 503 1431 497 1424 499 1421 509 1404 512 1404 438 1412 430Z"/>
<path fill="#004A00" d="M1416 413 1431 428 1446 425 1456 430 1446 439 1431 434 1422 425ZM1409 472 1418 463 1431 464 1441 473 1439 486 1432 493 1421 481 1416 476ZM1455 471 1456 458 1460 456 1463 458 1462 473 1460 476ZM1454 499 1460 495 1464 499 1460 504Z"/>
<path fill="#007600" d="M1411 443 1418 436 1423 443 1418 448ZM1443 444 1465 443 1446 451ZM1444 482 1456 486 1445 493ZM1413 488 1418 484 1419 492Z"/>
<path fill="#006000" d="M1496 485 1501 478 1507 486 1501 491ZM1551 499 1557 494 1565 501 1558 512Z"/>
<path fill="#004A00" d="M1555 500 1558 498 1559 501 1557 503Z"/>
<path fill="#006000" d="M1564 388 1572 382 1582 388 1572 394ZM1587 403 1600 388 1610 403 1600 408ZM1597 499 1604 493 1614 489 1618 498 1614 506 1600 507ZM1570 528 1572 527 1574 528 1572 530ZM1529 473 1530 471 1531 473 1530 475ZM1633 486 1649 486 1642 494ZM1606 360 1614 354 1623 361 1614 370Z"/>
<path fill="#00AE10" d="M1446 352 1512 352 1502 361 1515 374 1522 387 1529 392 1559 391 1578 403 1559 411 1544 423 1528 414 1515 403 1501 401 1486 400 1484 412 1480 418 1472 421 1464 417 1460 410 1456 417 1439 418 1442 404 1433 388 1446 384 1458 374 1454 364Z"/>
<path fill="#007600" d="M1484 375 1500 363 1495 375 1488 381Z"/>
<path fill="#A5DC82" d="M1482 361 1487 356 1491 361 1488 363ZM1535 403 1543 397 1553 403 1543 410Z"/>
<path fill="#00AE10" d="M1412 388 1418 374 1431 387 1424 391ZM1518 352 1542 352 1530 361ZM1553 361 1556 354 1569 352 1612 352 1600 364 1589 379 1586 382 1569 375 1559 368Z"/>
<path fill="#A5DC82" d="M1568 352 1590 352 1578 357 1571 358Z"/>
<path fill="#00AE10" d="M1623 352 1649 352 1649 415 1643 416 1627 412 1623 405 1608 388 1616 378 1623 361Z"/>
<path fill="#A5DC82" d="M1621 388 1628 374 1645 386 1645 405 1641 408Z"/>
<path fill="#00AE10" d="M1572 429 1583 418 1614 410 1625 415 1618 418 1601 430 1597 441 1594 459 1586 463 1579 456ZM1604 458 1623 426 1626 418 1643 420 1645 428 1649 434 1649 450 1643 451 1628 459 1614 472Z"/>
<path fill="#006000" d="M1609 430 1614 427 1618 430 1614 435Z"/>
<path fill="#00AE10" d="M1535 452 1536 443 1541 437 1556 433 1568 444 1566 456 1559 471 1574 477 1587 484 1601 486 1592 500 1595 514 1587 526 1571 511 1567 499 1555 488 1549 485 1542 476ZM1481 473 1487 463 1492 473 1488 489ZM1506 472 1515 465 1523 472 1519 486 1515 490ZM1494 500 1502 495 1511 500 1502 509ZM1484 429 1488 422 1494 430 1488 434ZM1457 514 1464 514 1475 528 1488 533 1499 522 1515 515 1544 495 1547 507 1552 527 1558 539 1578 533 1597 534 1608 551 1450 551 1461 540 1458 527Z"/>
<path fill="#A5DC82" d="M1463 551 1473 537 1498 542 1513 551ZM1518 551 1535 543 1543 535 1550 543 1552 551ZM1597 551 1601 547 1606 551Z"/>
<path fill="#006000" d="M1506 542 1515 533 1527 542 1515 550Z"/>
<path fill="#00AE10" d="M1603 528 1629 508 1642 526 1649 516 1649 551 1618 551 1619 543 1613 537Z"/>
<path fill="#A5DC82" d="M1612 528 1614 527 1616 528 1614 530Z"/>
<path fill="#00AE10" d="M1421 509 1424 499 1431 497 1443 503 1459 507 1457 514 1458 527 1461 540 1450 551 1439 551 1450 541 1442 531 1433 524 1421 518Z"/>
<path fill="#006000" d="M1426 542 1432 535 1440 542 1432 548Z"/>
<path fill="#00AE10" d="M1404 527 1407 528 1404 534Z"/>
<path fill="#A5DC82" d="M1515 473 1516 472 1517 473 1516 474Z"/>
<path fill="#00AE10" d="M1649 352 1888 352 1888 551 1649 551Z"/>
<path fill="#007600" d="M1819 352 1866 352 1876 361 1888 365 1888 428 1878 437 1853 437 1844 429 1838 417 1811 411 1798 412 1785 400 1782 394 1761 404 1770 416 1768 420 1752 430 1761 454 1765 459 1766 473 1779 486 1767 494 1753 507 1753 487 1753 475 1747 475 1743 458 1739 456 1726 464 1722 458 1725 452 1731 445 1718 428 1712 424 1698 431 1684 416 1669 426 1649 434 1649 422 1659 417 1654 413 1649 415 1649 405 1657 395 1670 399 1701 388 1699 374 1709 364 1701 375 1717 379 1725 376 1740 383 1751 375 1740 361 1740 357 1755 372 1769 379 1782 375 1806 361Z"/>
<path fill="#00AE10" d="M1826 401 1834 382 1845 381 1870 383 1874 401 1866 420 1852 405 1838 417ZM1724 405 1725 377 1727 377 1727 388 1741 401 1739 405Z"/>
<path fill="#006000" d="M1680 403 1701 396 1712 385 1717 388 1715 417 1701 409ZM1747 388 1753 384 1770 386 1769 389 1755 394ZM1792 373 1798 373 1812 388 1803 388 1795 381ZM1819 361 1825 357 1853 357 1859 360 1853 364 1825 364ZM1847 422 1849 415 1853 412 1857 417 1859 429 1853 433 1848 429Z"/>
<path fill="#007600" d="M1649 452 1657 452 1669 459 1684 454 1688 458 1706 473 1709 480 1711 486 1698 497 1681 497 1670 512 1657 494 1649 499Z"/>
<path fill="#006000" d="M1689 486 1697 475 1704 486 1698 492Z"/>
<path fill="#00AE10" d="M1680 472 1684 468 1686 473 1684 476Z"/>
<path fill="#007600" d="M1771 459 1781 454 1795 452 1800 445 1790 430 1797 420 1821 444 1816 448 1798 459 1782 465ZM1827 472 1837 465 1858 466 1866 454 1869 456 1858 475 1853 486 1837 482Z"/>
<path fill="#006000" d="M1837 472 1844 471 1846 473 1840 474Z"/>
<path fill="#007600" d="M1799 486 1810 477 1822 486 1810 491ZM1845 499 1852 488 1861 500 1853 511ZM1789 514 1797 509 1804 514 1801 527 1797 534 1791 527ZM1665 528 1670 517 1676 527 1674 532ZM1711 528 1739 528 1739 523 1746 528 1740 533 1711 537ZM1652 360 1656 358 1660 360 1656 373ZM1653 430 1656 428 1658 430 1656 433ZM1649 445 1665 444 1649 448Z"/>
<path fill="#A5DC82" d="M1754 352 1809 352 1793 361 1781 365 1767 366 1758 360ZM1692 360 1698 354 1701 362 1697 363ZM1722 360 1726 352 1730 360 1727 364ZM1673 375 1684 369 1687 375 1684 378ZM1661 388 1670 375 1677 388 1670 393ZM1738 374 1740 372 1742 375 1740 376ZM1840 458 1845 445 1851 442 1859 445 1859 459 1851 463ZM1865 473 1880 449 1884 456 1884 472 1881 482ZM1792 472 1796 469 1800 473 1796 476ZM1767 502 1771 499 1797 498 1801 500 1793 502 1782 507 1770 507ZM1819 500 1824 498 1834 499 1825 505ZM1800 551 1823 536 1838 524 1845 532 1853 545 1863 514 1871 507 1881 499 1885 511 1881 527 1874 540 1881 547 1888 545 1888 551ZM1725 551 1735 543 1744 543 1744 551ZM1658 543 1669 539 1677 543 1673 551 1665 551ZM1695 543 1703 543 1701 551 1697 551ZM1681 514 1684 512 1688 515 1684 515ZM1877 352 1888 352 1883 355ZM1884 528 1888 526 1888 533ZM1710 459 1712 457 1713 459 1712 460ZM1718 501 1726 494 1726 501Z"/>
<path fill="#007600" d="M1054 303 1066 303 1066 289 1138 289 1138 303 1179 303 1179 290 1194 290 1194 317 1208 317 1208 331 1249 331 1249 317 1264 317 1264 341 1054 341Z"/>
<path fill="#00AE10" d="M1066 289 1138 289 1138 303 1147 303 1155 316 1153 325 1139 326 1121 333 1119 320 1112 312 1101 305 1091 302 1076 302 1066 303ZM1179 290 1194 290 1194 300 1179 302ZM1195 317 1208 317 1208 319Z"/>
<path fill="#A5DC82" d="M1071 290 1099 290 1093 293 1082 295 1071 293Z"/>
<path fill="#007600" d="M1110 290 1130 290 1123 295Z"/>
<path fill="#A5DC82" d="M1122 303 1134 303 1128 305Z"/>
<path fill="#006000" d="M1054 310 1065 312 1076 319 1080 329 1066 333 1054 325ZM1082 319 1095 310 1110 314 1112 325 1095 324 1082 330ZM1159 303 1169 303 1172 316 1170 334 1166 325 1160 316ZM1121 337 1137 331 1150 341 1121 341Z"/>
<path fill="#00AE10" d="M1089 332 1095 328 1101 332 1095 341 1093 341ZM1054 333 1065 340 1067 341 1054 341ZM1107 340 1109 339 1111 341 1108 341Z"/>
<path id="ocean" fill="#fff" d="M212.2 136.3H2315.4V150.9H212.2ZM212.2 150.3H2315.4V164.9H212.2ZM212.2 164.3H2315.4V178.9H212.2ZM212.2 178.3H1642.4V192.9H212.2ZM1684.4 178.3H2315.4V192.9H1684.4ZM212.2 192.2H1530.2V206.8H212.2ZM1726.5 192.2H1768.6V206.8H1726.5ZM1782.6 192.2H2315.4V206.8H1782.6ZM212.2 206.2H1446.1V220.8H212.2ZM1516.2 206.2H1544.2V220.8H1516.2ZM1600.3 206.2H1628.4V220.8H1600.3ZM1726.5 206.2H2315.4V220.8H1726.5ZM212.2 220.2H1432.1V234.8H212.2ZM1516.2 220.2H1544.2V234.8H1516.2ZM1600.3 220.2H1642.4V234.8H1600.3ZM1684.4 220.2H1712.5V234.8H1684.4ZM1726.5 220.2H2315.4V234.8H1726.5ZM212.2 234.2H1376.0V248.8H212.2ZM1614.3 234.2H1642.4V248.8H1614.3ZM1684.4 234.2H1712.5V248.8H1684.4ZM1894.8 234.2H1950.8V248.8H1894.8ZM2021.0 234.2H2315.4V248.8H2021.0ZM212.2 248.2H1179.7V262.8H212.2ZM1221.7 248.2H1319.9V262.8H1221.7ZM1333.9 248.2H1390.0V262.8H1333.9ZM2021.0 248.2H2175.2V262.8H2021.0ZM2287.4 248.2H2315.4V262.8H2287.4ZM212.2 262.2H548.7V276.8H212.2ZM562.7 262.2H1151.6V276.8H562.7ZM1221.7 262.2H1249.8V276.8H1221.7ZM1291.8 262.2H1319.9V276.8H1291.8ZM1361.9 262.2H1390.0V276.8H1361.9ZM2035.0 262.2H2063.0V276.8H2035.0ZM212.2 276.2H464.6V290.8H212.2ZM590.8 276.2H618.8V290.8H590.8ZM632.8 276.2H1179.7V290.8H632.8ZM1221.7 276.2H1291.8V290.8H1221.7ZM1474.1 276.2H1502.2V290.8H1474.1ZM212.2 290.2H464.6V304.8H212.2ZM590.8 290.2H618.8V304.8H590.8ZM717.0 290.2H1067.5V304.8H717.0ZM1137.6 290.2H1179.7V304.8H1137.6ZM1193.7 290.2H1291.8V304.8H1193.7ZM1474.1 290.2H1502.2V304.8H1474.1ZM212.2 304.2H464.6V318.7H212.2ZM759.0 304.2H913.3V318.7H759.0ZM1193.7 304.2H1263.8V318.7H1193.7ZM212.2 318.1H408.5V332.7H212.2ZM632.8 318.1H660.9V332.7H632.8ZM688.9 318.1H885.2V332.7H688.9ZM1207.7 318.1H1249.8V332.7H1207.7ZM212.2 332.1H394.5V346.7H212.2ZM506.6 332.1H576.8V346.7H506.6ZM632.8 332.1H660.9V346.7H632.8ZM688.9 332.1H801.1V346.7H688.9ZM212.2 346.1H380.5V360.7H212.2ZM492.6 346.1H576.8V360.7H492.6ZM688.9 346.1H787.1V360.7H688.9ZM212.2 360.1H352.4V374.7H212.2ZM464.6 360.1H548.7V374.7H464.6ZM618.8 360.1H646.9V374.7H618.8ZM717.0 360.1H759.0V374.7H717.0ZM212.2 374.1H324.4V388.7H212.2ZM450.6 374.1H520.7V388.7H450.6ZM618.8 374.1H660.9V388.7H618.8ZM688.9 374.1H717.0V388.7H688.9ZM212.2 388.1H296.3V402.7H212.2ZM450.6 388.1H520.7V402.7H450.6ZM632.8 388.1H674.9V402.7H632.8ZM688.9 388.1H731.0V402.7H688.9ZM212.2 402.1H310.3V416.7H212.2ZM450.6 402.1H534.7V416.7H450.6ZM548.7 402.1H674.9V416.7H548.7ZM702.9 402.1H731.0V416.7H702.9ZM212.2 416.1H310.3V430.6H212.2ZM464.6 416.1H660.9V430.6H464.6ZM2203.2 416.1H2315.4V430.6H2203.2ZM212.2 430.0H380.5V444.6H212.2ZM436.5 430.0H562.7V444.6H436.5ZM590.8 430.0H618.8V444.6H590.8ZM2175.2 430.0H2315.4V444.6H2175.2ZM212.2 444.0H394.5V458.6H212.2ZM436.5 444.0H562.7V458.6H436.5ZM590.8 444.0H618.8V458.6H590.8ZM2147.1 444.0H2315.4V458.6H2147.1ZM212.2 458.0H338.4V472.6H212.2ZM352.4 458.0H394.5V472.6H352.4ZM408.5 458.0H520.7V472.6H408.5ZM534.7 458.0H562.7V472.6H534.7ZM1628.4 458.0H1670.4V472.6H1628.4ZM2133.1 458.0H2315.4V472.6H2133.1ZM212.2 472.0H520.7V486.6H212.2ZM885.2 472.0H913.3V486.6H885.2ZM1628.4 472.0H1670.4V486.6H1628.4ZM2105.1 472.0H2315.4V486.6H2105.1ZM212.2 486.0H520.7V500.6H212.2ZM885.2 486.0H913.3V500.6H885.2ZM1726.5 486.0H1754.5V500.6H1726.5ZM2105.1 486.0H2315.4V500.6H2105.1ZM212.2 500.0H338.4V514.6H212.2ZM352.4 500.0H380.5V514.6H352.4ZM1698.5 500.0H1754.5V514.6H1698.5ZM2119.1 500.0H2161.2V514.6H2119.1ZM2175.2 500.0H2315.4V514.6H2175.2ZM212.2 514.0H296.3V528.5H212.2ZM1684.4 514.0H1740.5V528.5H1684.4ZM2175.2 514.0H2203.2V528.5H2175.2ZM2217.3 514.0H2315.4V528.5H2217.3ZM226.2 528.0H282.3V542.5H226.2ZM1684.4 528.0H1712.5V542.5H1684.4ZM2175.2 528.0H2315.4V542.5H2175.2ZM212.2 541.9H254.3V556.5H212.2ZM2175.2 541.9H2315.4V556.5H2175.2ZM212.2 555.9H240.2V570.5H212.2ZM2175.2 555.9H2315.4V570.5H2175.2ZM801.1 569.9H829.1V584.5H801.1ZM1376.0 569.9H1404.0V584.5H1376.0ZM2161.2 569.9H2315.4V584.5H2161.2ZM731.0 583.9H773.1V598.5H731.0ZM801.1 583.9H829.1V598.5H801.1ZM1376.0 583.9H1404.0V598.5H1376.0ZM2147.1 583.9H2315.4V598.5H2147.1ZM632.8 597.9H773.1V612.5H632.8ZM885.2 597.9H969.4V612.5H885.2ZM1039.5 597.9H1095.5V612.5H1039.5ZM1235.8 597.9H1263.8V612.5H1235.8ZM1347.9 597.9H1376.0V612.5H1347.9ZM1530.2 597.9H1558.2V612.5H1530.2ZM2133.1 597.9H2315.4V612.5H2133.1ZM380.5 611.9H408.5V626.5H380.5ZM618.8 611.9H759.0V626.5H618.8ZM871.2 611.9H969.4V626.5H871.2ZM1025.4 611.9H1095.5V626.5H1025.4ZM1235.8 611.9H1263.8V626.5H1235.8ZM1347.9 611.9H1376.0V626.5H1347.9ZM1530.2 611.9H1558.2V626.5H1530.2ZM2119.1 611.9H2315.4V626.5H2119.1ZM324.4 625.9H352.4V640.4H324.4ZM380.5 625.9H408.5V640.4H380.5ZM604.8 625.9H773.1V640.4H604.8ZM871.2 625.9H941.3V640.4H871.2ZM1025.4 625.9H1081.5V640.4H1025.4ZM1376.0 625.9H1404.0V640.4H1376.0ZM1516.2 625.9H1600.3V640.4H1516.2ZM1628.4 625.9H1656.4V640.4H1628.4ZM2105.1 625.9H2315.4V640.4H2105.1ZM254.3 639.9H366.4V654.4H254.3ZM380.5 639.9H464.6V654.4H380.5ZM590.8 639.9H787.1V654.4H590.8ZM871.2 639.9H941.3V654.4H871.2ZM1025.4 639.9H1067.5V654.4H1025.4ZM1376.0 639.9H1404.0V654.4H1376.0ZM1432.1 639.9H1600.3V654.4H1432.1ZM1628.4 639.9H1670.4V654.4H1628.4ZM2049.0 639.9H2077.0V654.4H2049.0ZM2091.1 639.9H2203.2V654.4H2091.1ZM2245.3 639.9H2315.4V654.4H2245.3ZM254.3 653.8H380.5V668.4H254.3ZM394.5 653.8H492.6V668.4H394.5ZM590.8 653.8H801.1V668.4H590.8ZM871.2 653.8H955.3V668.4H871.2ZM1319.9 653.8H1347.9V668.4H1319.9ZM1418.0 653.8H1698.5V668.4H1418.0ZM2035.0 653.8H2315.4V668.4H2035.0ZM212.2 667.8H492.6V682.4H212.2ZM590.8 667.8H801.1V682.4H590.8ZM885.2 667.8H983.4V682.4H885.2ZM1291.8 667.8H1376.0V682.4H1291.8ZM1418.0 667.8H1698.5V682.4H1418.0ZM2021.0 667.8H2315.4V682.4H2021.0ZM212.2 681.8H492.6V696.4H212.2ZM520.7 681.8H590.8V696.4H520.7ZM731.0 681.8H787.1V696.4H731.0ZM899.2 681.8H983.4V696.4H899.2ZM1291.8 681.8H1684.4V696.4H1291.8ZM1880.7 681.8H1894.8V696.4H1880.7ZM1908.8 681.8H1922.8V696.4H1908.8ZM1992.9 681.8H2315.4V696.4H1992.9Z"/>
<path class="coast" shape-rendering="auto" fill="none" stroke="#000" stroke-width="2.8" stroke-linejoin="round" stroke-linecap="round" d="M358.5 150.4 360.7 143.7 367.4 141.5 376.4 141.5 385.3 143.7 395.4 143.7 407.7 147.1 414.4 141.5 425.6 141.5 432.4 144.8 441.3 150.4 450.3 153.8 458.1 157.7 450.3 159.4 452.5 166.7 445.8 168.3 436.8 170.6 443.6 177.3 450.3 179.5 459.2 170.6 469.3 169.5 472.7 162.7 477.1 158.3 488.3 156.0 493.9 153.8 502.9 159.4 508.5 166.1 502.9 170.0 504.0 172.8 515.2 169.5 528.6 170.6 533.1 175.1 544.3 170.6 553.3 169.5 553.3 165.5 544.3 165.0 537.6 161.6 526.4 157.1 515.2 152.7 504.0 148.2 488.3 146.0 478.3 147.1 477.1 141.5 459.2 141.5 459.2 146.0 472.7 146.0M358.5 150.4 358.5 153.8 366.3 158.3 378.6 161.6 383.1 159.4 392.1 161.6 403.3 162.7 403.3 167.2 407.7 172.8 414.4 175.1 425.6 178.4 439.1 184.0 450.3 185.1 454.7 180.7 461.5 171.7M510.7 142.6 533.1 143.7 544.3 147.1 553.3 144.8 564.0 143.7M502.9 159.4 513.0 157.1 521.9 159.4 533.1 160.5 542.1 165.0M281.2 417.0 283.4 421.5 280.0 426.0 286.8 428.2 292.4 423.7 294.6 429.3 299.1 427.1 303.6 430.4 301.3 422.6 303.6 417.0M280.0 426.0 285.6 428.2 290.1 433.8 299.1 439.4 304.7 443.3 314.7 444.4 321.5 443.9 330.4 440.5 338.3 436.0 343.9 430.4 347.2 428.2 353.9 429.9 359.5 427.1 364.0 419.2 364.0 417.0M364.0 417.0 362.9 423.7 367.4 429.3 370.7 436.0 375.2 439.4 379.7 441.6 377.4 445.0 380.8 450.6 383.0 455.1 388.6 459.5 393.1 462.9 394.2 466.3 392.0 470.7 393.1 475.2 395.3 478.6 399.8 480.8 408.8 481.9 411.0 477.4 413.3 473.0 418.9 469.6 424.0 469.6M362.9 447.8 358.4 447.8 350.6 449.5 345.0 453.9 339.4 455.6 331.5 456.2 327.1 459.5 325.4 465.1 324.8 471.9 325.9 478.6 330.4 484.2 328.2 488.6 330.4 494.2 334.3 499.8 338.3 502.1 341.6 501.0 350.6 507.7M334.3 499.8 330.4 501.0 325.9 505.4 330.4 508.8 332.7 505.4 330.4 502.1 321.5 503.2 312.5 504.3 313.6 511.0 310.3 506.6 305.8 505.4 299.1 506.6 286.8 507.7 280.0 509.9 276.7 514.4 275.6 520.0 272.2 525.6 266.6 528.9 261.0 533.4 256.5 537.9 247.6 539.0 240.9 541.3 234.1 543.5 233.0 549.1 234.1 557.0M362.9 447.8 361.8 451.7 357.3 456.2 356.2 461.8 359.5 465.1 364.0 466.3 362.9 469.6 357.3 470.7 353.9 473.0 346.1 476.3 345.0 484.2 343.9 488.6 350.6 494.2 353.9 496.5 360.6 495.4 362.9 501.0 370.7 502.1 375.2 499.8 384.1 497.6 388.6 493.1 397.6 490.9 404.3 493.1 408.8 499.8 414.4 504.3 418.9 505.4 424.0 502.1M353.9 479.7 359.5 475.2 365.1 477.4 370.7 473.0 379.7 471.9 386.4 475.2 388.6 481.9 386.4 488.6 379.7 490.9 373.0 495.4 367.4 493.1 359.5 494.2 355.0 489.8 351.7 484.2ZM355.0 481.9 362.9 484.2 366.2 479.7 373.0 483.0 380.8 479.7M356.2 489.8 364.0 492.0 370.7 488.6 378.6 485.3M347.2 477.4 352.8 475.2 358.4 473.0 362.9 475.2 367.4 471.9 375.2 470.7M386.4 475.2 392.0 470.7M364.0 453.9 369.6 452.8 368.5 455.6ZM372.4 461.8 376.3 461.8 374.6 464.0ZM321.5 498.2 324.3 497.6 324.3 499.3ZM218.3 515.5 230.8 515.5 236.4 517.7 236.9 523.3 234.1 527.8 228.6 528.9 225.2 533.4 220.7 535.7 218.3 535.7M218.3 538.5 233.0 537.3 231.9 541.3 225.2 543.5 218.3 545.7M281.2 512.1 285.6 513.3 287.9 517.7 292.4 520.0 294.6 521.1 286.8 524.5 281.2 523.3 282.3 517.7ZM283.4 513.3 286.8 520.0 284.5 523.3M258.8 535.7 262.1 531.2 270.0 528.9 273.3 533.4 278.4 533.4 272.2 537.9 266.6 539.0ZM411.0 475.2 415.5 471.9 424.0 470.7M417.7 483.0 424.0 481.9 424.0 486.4 418.9 486.4ZM464.3 453.9 468.8 447.2 477.7 443.9 484.4 445.0 480.0 450.6 471.0 457.3 466.5 459.5ZM424.0 499.8 433.0 496.5 441.9 493.1 452.0 489.8 460.9 488.6 468.8 489.8 473.3 494.2 482.2 497.6 486.7 495.4 491.2 488.6 500.1 486.4 504.6 487.5 509.1 484.2 510.2 479.7 506.8 473.0 505.7 464.0 506.8 459.5 511.3 457.3 512.4 451.7 516.9 449.5 524.7 447.2 529.2 449.5 535.9 452.8 540.4 457.3 544.9 459.5 551.6 456.2 555.0 452.8 552.7 446.1 555.0 439.4 547.1 439.4 542.7 437.1 535.9 439.4 524.7 445.0M491.2 488.6 495.6 489.8 502.4 488.6 506.8 485.3M542.7 426.0 552.7 422.6 563.9 421.5 575.1 421.5 586.3 422.6 597.5 423.7 605.3 424.8 607.6 421.5 614.3 419.2 625.5 418.1 634.0 417.0M589.7 431.6 594.1 436.0 597.5 441.6 602.0 446.1 607.6 445.0 607.6 441.6 603.1 439.4 603.1 433.8 607.6 426.0 603.1 424.8 598.6 429.3 591.9 430.4 589.7 431.6M217.9 688.0 221.8 684.6 225.2 681.3 233.0 679.0 240.9 676.8 247.6 673.4 255.4 670.1 258.8 664.5 255.4 661.1 253.2 656.6 256.5 651.0 263.3 647.7 268.9 646.0 274.4 647.7 283.4 648.8 292.4 653.3 299.1 653.3 305.8 652.1 310.3 646.6 317.0 643.2 325.9 641.0 330.4 636.5 334.9 634.2 340.5 634.2 346.1 637.6 353.9 639.8 357.3 645.4 359.5 651.0 361.8 655.5 368.5 660.0 375.2 663.3 381.9 668.9 388.6 674.5 397.6 677.9 406.5 681.3 413.3 685.7 420.0 688.0 424.0 691.3M343.9 654.4 346.1 657.7 346.1 664.5 342.7 672.3 339.4 674.5 334.9 668.9 332.7 663.3 334.9 660.0 339.4 657.7ZM339.4 674.5 345.0 680.1 348.3 685.7 350.6 691.3M339.4 674.5 334.9 679.0 328.2 681.3 327.1 686.9 330.4 691.3M329.3 686.9 337.1 684.6 343.9 679.0M381.9 620.8 388.6 617.4 397.6 615.2 404.3 616.3 406.5 618.6 402.1 619.7 403.2 626.4 408.8 629.8M381.9 620.8 384.1 627.5 385.3 635.4 390.9 639.8 398.7 644.3 404.3 647.7 407.7 654.4 411.0 661.1 417.7 665.6 424.0 668.9M217.9 558.1 225.2 559.2 230.8 557.0M217.9 563.7 220.7 564.8M446.4 691.3 450.9 689.1 456.5 691.3M602.0 660.0 595.3 662.8 602.0 663.3M549.4 688.0 556.1 689.1 562.8 686.9 569.5 689.1 574.0 691.3M598.6 685.7 605.3 683.5 614.3 685.7 621.0 688.0 612.1 689.1 603.1 688.0 598.6 685.7M1317.7 234.4 1323.3 234.4M1248.8 609.6 1245.4 616.3 1248.8 620.8M1664.7 532.7 1675.1 530.8 1685.6 528.1 1693.4 522.9 1701.2 519.0 1709.1 512.5 1719.5 508.6 1727.4 503.3 1732.6 495.5 1739.1 487.7 1741.7 479.8 1746.9 474.6 1753.5 475.9 1752.2 485.0 1748.3 494.2 1745.6 502.0 1739.1 508.6 1730.0 513.8 1719.5 517.7 1709.1 520.3 1701.2 525.5 1698.6 530.8 1688.2 534.7 1675.1 536.6 1666.0 534.7ZM580.6 152.8 591.8 154.3M603.0 151.7 636.6 149.9"/>
<path class="coast" shape-rendering="auto" fill="#000" stroke="#000" stroke-width="2.0" stroke-linejoin="round" stroke-linecap="round" d="M474.3 213.1 482.7 213.1 481.6 216.5 476.0 216.5ZM560.0 184.0 564.0 183.5 564.0 186.3 560.0 186.3ZM379.7 309.5 383.0 309.5 383.0 312.3 380.2 312.3ZM502.4 372.1 505.2 372.1 505.2 375.5 502.4 375.5ZM631.1 397.9 634.0 397.3 634.0 401.3 631.1 401.3ZM480.5 438.3 484.4 438.3 484.4 440.5 480.5 440.5ZM536.5 446.3 539.9 446.3 539.9 448.6 536.5 448.6ZM599.7 441.6 607.6 441.1 608.7 446.1 602.0 447.2ZM424.0 483.0 426.8 483.6 426.2 487.0 424.0 487.5ZM348.3 652.7 351.7 652.7 351.7 655.5 348.3 655.5ZM352.8 657.2 358.4 656.6 358.4 658.9 353.4 659.4ZM355.6 662.8 358.4 662.8 358.4 665.0 355.6 665.0ZM364.0 662.8 367.4 662.8 367.4 665.0 364.0 665.0ZM392.0 682.4 396.5 682.9 395.3 685.2 392.0 684.6ZM406.5 685.7 411.0 686.3 411.0 689.1 406.5 688.0ZM411.0 621.9 415.5 619.7 420.0 623.0 424.0 628.6 424.0 642.1 417.7 635.4 413.3 630.9ZM710.1 344.2 719.1 343.0 721.3 345.3 714.6 347.5 710.1 346.4ZM841.1 309.5 844.0 308.9 844.0 315.1 841.1 314.5ZM980.6 289.8 985.0 289.3 985.0 291.5 981.1 291.9ZM988.4 290.4 994.0 290.4 994.0 292.6 988.4 292.6ZM912.3 625.3 917.9 624.2 922.4 628.6 921.2 632.0 914.5 629.8ZM875.9 633.1 879.8 632.6 879.8 634.8 875.9 635.4ZM1039.3 623.0 1044.4 623.0 1044.4 627.5 1039.3 627.5ZM1145.8 278.3 1150.3 275.0 1154.7 277.2 1157.0 281.7 1152.5 285.6 1148.0 283.9ZM1278.6 141.5 1300.9 141.5 1300.9 144.3 1286.4 144.8 1278.6 143.2ZM1363.6 170.0 1371.5 170.0 1371.5 172.8 1363.6 172.8ZM1454.3 175.6 1463.3 173.4 1471.1 173.9 1471.1 176.2 1463.3 177.9 1456.5 179.5ZM1355.2 192.4 1364.7 191.9 1380.4 192.1 1380.4 194.6 1367.0 195.2 1356.9 195.2ZM1354.7 200.8 1360.3 198.0 1367.0 199.7 1367.5 204.2 1362.5 207.0 1356.9 205.3ZM1321.1 211.4 1325.6 210.3 1330.0 212.0 1327.8 214.8 1322.2 214.2ZM1365.3 217.0 1384.9 217.0 1384.9 220.4 1365.9 220.4ZM1386.6 219.3 1396.1 219.3 1396.1 221.5 1387.1 221.5ZM1371.5 263.5 1380.4 260.1 1387.1 268.0 1384.9 274.7 1380.4 277.0 1369.2 277.0 1373.7 271.3ZM1278.6 231.0 1288.6 231.6 1286.4 234.4 1279.7 233.3ZM1503.1 147.6 1513.2 148.2 1512.1 150.4 1504.2 149.9ZM1524.4 160.5 1528.9 160.5 1528.9 163.9 1524.4 163.9ZM1498.1 168.3 1504.8 168.3 1503.1 171.7 1499.2 171.1ZM1480.7 173.4 1486.9 173.4 1485.2 176.2 1481.3 176.2ZM1474.0 175.6 1478.5 175.6 1477.4 177.3 1474.0 177.3ZM1545.6 177.3 1563.6 174.5 1568.0 176.2 1563.6 181.8 1565.8 186.3 1574.7 187.4 1574.7 193.0 1563.6 195.2 1552.4 194.1 1554.6 188.5 1541.2 186.3 1541.2 182.9 1552.4 181.8ZM1527.7 182.9 1536.7 181.2 1538.9 183.5 1532.2 186.3ZM1573.6 179.5 1585.9 179.5 1585.9 181.8 1578.1 185.1 1574.7 182.9ZM1597.1 185.1 1608.3 184.0 1611.7 188.5 1610.6 191.9 1599.4 189.6ZM1672.1 175.1 1684.0 174.5 1684.0 177.9 1675.5 178.4ZM1698.6 159.9 1706.4 158.3 1723.2 161.1 1723.2 164.4 1707.5 163.9ZM1798.2 225.4 1807.1 226.6 1812.7 229.9 1804.9 232.7 1800.4 229.9ZM1836.2 214.2 1840.2 214.2 1840.2 217.6 1836.2 217.6ZM2293.2 181.8 2303.3 180.1 2307.7 181.2 2305.5 184.0 2294.3 184.6ZM2110.7 215.9 2115.2 216.5 2124.1 219.8 2123.0 223.2 2115.2 221.0 2110.2 218.2ZM2232.7 244.5 2245.0 241.1 2260.7 241.7 2269.7 244.5 2265.2 250.1 2254.0 254.0 2245.0 254.5 2241.7 251.2 2249.5 247.8 2238.3 247.3ZM2135.3 255.7 2148.8 254.5 2152.1 259.0 2146.5 262.4 2137.6 260.1ZM2297.7 250.6 2310.0 249.5 2310.0 254.5 2297.7 254.5ZM2205.6 494.6 2213.1 493.9 2215.3 500.6 2211.6 503.6ZM2207.1 602.1 2223.6 599.8 2225.0 604.0 2207.1 604.0ZM2265.6 641.0 2272.4 640.3 2272.4 644.8 2266.1 645.2ZM2304.8 616.3 2309.5 614.1 2309.5 619.7 2305.9 619.7ZM2189.1 607.4 2193.1 607.4 2193.1 610.7 2189.1 610.7ZM2163.8 664.5 2168.9 664.5 2168.9 668.3 2163.8 668.3ZM2163.8 673.9 2167.1 673.9 2167.1 676.8 2163.8 676.8ZM731.7 411.0 744.8 410.3 746.6 416.6 733.6 417.4ZM558.2 183.4 569.4 180.4 570.1 184.2 560.1 187.2Z"/>
<path class="coast" shape-rendering="auto" fill="none" stroke="#000" stroke-width="3.3" stroke-linejoin="round" stroke-linecap="round" d="M563.9 339.7 557.2 336.3 547.1 334.1 535.9 333.0 524.7 335.2 516.9 337.4 509.1 341.9 512.4 344.2 506.8 348.6 509.1 353.1 514.7 354.2 510.2 356.5 504.6 358.7 502.4 363.2 493.4 364.3 484.4 366.6 477.7 369.9 468.8 374.4 462.1 376.6 455.3 382.2 457.6 388.9 453.1 393.4 452.0 399.0 455.3 404.6 457.6 408.0 463.2 409.1 468.8 408.0 474.4 411.3 477.7 417.0M563.9 339.7 568.4 341.9 568.4 347.5 562.8 344.2 557.2 345.3 556.1 349.8 547.1 355.4 541.5 359.8 531.5 363.2 524.7 366.6 520.3 368.8 512.4 368.8 508.0 369.9 506.8 375.5 509.1 381.1 512.4 384.5 513.6 391.2 516.9 395.7 513.6 400.1 512.4 404.6 509.1 409.1 509.1 417.0M480.0 417.0 477.7 422.6 471.0 427.1 462.1 429.3 457.6 432.7 448.6 436.0 446.4 445.0 444.1 453.9 440.8 461.8 435.2 469.6 430.7 470.7 424.0 469.6M452.0 452.8 448.6 459.5 443.0 468.5M431.8 654.4 440.8 653.3 446.4 657.7 453.1 656.6M424.0 667.8 429.6 666.7 435.2 668.9 439.7 671.2 436.3 675.7 444.1 679.0 453.1 682.4 460.9 686.9 468.8 691.3 471.0 692.4M634.0 613.0 628.9 615.2 627.7 624.2 621.0 626.4 615.4 630.9 613.2 639.8 612.1 646.6 605.3 649.9 602.0 655.5 598.6 662.2 603.1 665.6 605.3 673.4 612.1 676.8 621.0 679.0 630.0 680.1 634.0 680.1M634.0 280.4 643.0 281.5 651.9 280.9 663.1 280.4 672.1 281.5 678.8 283.7 687.7 284.8 696.7 286.0 706.8 287.1 716.8 288.2 725.8 290.4 734.7 292.7 743.7 296.0 752.7 299.4 761.6 301.6 770.6 302.7 779.5 306.1 787.4 308.3 790.7 313.9 791.8 317.3 788.5 320.7 781.8 324.0 772.8 327.4 763.9 329.6 752.7 331.3 741.5 330.7 730.3 329.6 719.1 327.4 707.9 325.1 698.9 322.9 690.0 321.8 683.3 320.7 676.5 318.4 672.1 316.2 658.6 315.6M683.3 320.7 687.7 327.4 694.4 330.7 700.0 334.1 701.2 337.4 694.4 340.8 697.8 344.2 701.2 349.8 703.4 353.1 711.2 355.4 719.1 357.6 725.8 359.8 734.7 362.1 739.2 363.2 745.9 359.8 744.8 355.4 741.5 353.1 734.7 355.4 729.1 353.1 723.6 348.6 726.9 344.2 732.5 343.0 739.2 345.3 745.9 348.6 752.7 349.8 759.4 349.8 766.1 352.0 775.0 353.1 781.8 352.0 779.5 348.6 772.8 344.2 768.3 338.6 771.7 336.3 779.5 333.0 788.5 330.7 797.4 327.4 804.1 322.9 808.6 320.7 813.1 325.1 819.8 327.4 824.3 330.7 831.0 331.9 835.5 326.3 836.6 320.7 833.3 316.2 826.5 312.8 831.0 306.1 832.1 299.4 826.5 297.1 818.7 294.9 824.3 294.9 835.5 296.0 844.0 296.0M701.2 383.3 707.9 382.2 705.6 387.8 712.4 393.4 706.8 397.9M634.0 399.0 639.6 393.4 645.2 391.2 651.9 394.5 660.9 399.0 668.7 402.4 673.2 408.0 670.9 412.4 663.1 413.6 654.1 414.7 650.8 417.0 645.2 417.0 640.7 408.0 636.2 401.3ZM844.0 295.4 850.7 295.4 856.3 297.7 861.9 301.0 867.5 304.4 866.4 307.7 857.4 306.6 848.5 308.9 844.0 312.2M844.0 314.5 849.6 315.6 855.2 321.2 864.1 320.1 873.1 318.9 880.9 317.8 880.9 313.3 884.3 307.7 893.3 305.5 902.2 304.4 911.2 302.1 920.1 298.8 926.8 296.6 935.8 295.4 944.7 294.3 953.7 292.1 962.7 291.0 971.6 290.4 978.3 290.4M967.1 291.0 967.1 297.7 957.1 298.8 967.1 298.8 976.1 299.9 980.6 299.9 983.9 296.6 989.5 294.3 1000.7 294.3 1009.7 294.3 1016.4 295.4 1020.9 293.2 1029.8 291.0 1036.5 289.8 1043.3 289.8 1045.5 295.4 1041.0 297.7 1045.5 298.8 1050.0 295.4 1054.0 293.2M1034.3 283.1 1038.8 284.2 1043.3 287.6 1044.4 291.0M887.7 287.6 889.9 284.2 896.6 282.0 904.4 281.4 912.3 284.2 917.9 286.5 916.8 289.8 910.0 292.1 902.2 294.3 893.3 294.3 888.8 292.1ZM1054.0 209.2 1045.5 211.5 1038.8 213.7 1029.8 217.1 1023.1 220.4 1014.1 222.7 1005.2 223.8 996.2 224.9 987.3 226.0 978.3 228.3 969.4 230.5 960.4 232.7 955.9 236.1 947.0 237.2 948.1 240.6 953.7 242.8 947.0 245.1 940.3 246.2 933.6 247.3 932.4 251.8 935.8 255.1 943.6 256.3 949.2 259.6 955.9 263.0 962.7 264.1 969.4 265.2 978.3 267.4 985.0 269.7 994.0 267.4 1003.0 266.3 1011.9 267.4 1016.4 269.7 1019.7 266.3 1011.9 264.1 1005.2 260.7 998.5 257.4 992.9 252.9 989.5 248.4 987.3 243.9 985.0 240.6 989.5 236.1 994.0 231.6 1000.7 229.4 1005.2 224.9M1032.1 271.9 1038.8 269.7 1046.6 271.9 1054.0 275.3 1054.0 280.9 1045.5 279.8 1036.5 277.5 1032.1 275.3ZM634.0 606.3 640.7 605.1 645.2 601.8 651.9 600.7 658.6 601.8 665.3 605.1 663.1 609.6 667.6 611.9 683.3 610.7 685.5 614.1 678.8 615.2 672.1 617.4 667.6 620.8 672.1 623.0 678.8 624.2 683.3 626.4 683.3 630.9 681.0 633.1 686.6 635.4 694.4 630.9 701.2 628.6 707.9 626.4 712.4 623.0 705.6 619.7 701.2 615.2 696.7 613.0 701.2 608.5 707.9 604.0 716.8 601.8 725.8 599.5 737.0 596.2 748.2 595.1 757.1 593.9 763.9 593.9 763.9 597.3 757.1 599.5 750.4 601.8 741.5 602.9 745.9 608.5 752.7 611.9 745.9 610.7 741.5 615.2 739.2 620.8 732.5 621.9 723.6 620.8 716.8 623.0 712.4 623.0M732.5 624.2 738.1 630.9 745.9 633.1 752.7 635.4 759.4 639.8 766.1 645.4 772.8 649.9 779.5 652.1 787.4 655.5 793.0 660.0 796.3 666.7 797.4 672.3 793.0 675.7 786.2 679.0 777.3 682.4 768.3 681.3 761.6 681.3 754.9 683.5 745.9 683.5 737.0 681.3 730.3 679.0 723.6 679.0 719.1 674.5 716.8 672.3 707.9 672.3 703.4 667.8 696.7 667.8 687.7 667.8 678.8 667.8 669.8 670.1 660.9 673.4 651.9 677.9 650.8 681.3 643.0 681.3 634.0 680.1M865.3 633.1 869.7 628.6 874.2 620.8 876.5 615.2 882.1 615.2 886.5 617.4 893.3 613.0 902.2 606.3 911.2 602.9 917.9 599.5 924.6 596.2 931.3 595.6 938.0 598.4 944.7 599.5 949.2 597.3 955.9 598.4 959.3 602.9 957.1 609.6 954.8 615.2 951.5 618.6 958.2 620.8 955.9 623.0 949.2 620.8 940.3 619.7 933.6 621.9 929.1 625.3 926.8 628.6 933.6 630.9 936.9 633.1 929.1 634.2 922.4 633.1 917.9 634.2 915.6 635.4 922.4 637.6 926.8 643.2 931.3 649.9 933.6 653.3 940.3 655.5 949.2 657.7 952.6 661.1 948.1 665.6 945.9 668.9 948.1 675.7 951.5 679.0 953.7 685.7 951.5 692.4M951.5 671.2 955.9 666.7 964.9 665.6 968.3 670.1 970.5 675.7 976.1 677.9 980.6 681.3 978.3 685.7 972.7 688.0 964.9 688.0 958.2 684.6 954.8 680.1 953.7 673.4M865.3 633.1 869.7 635.4 875.3 638.7 879.8 642.1 877.6 646.6 876.5 653.3 879.8 657.7 886.5 664.5 893.3 670.1 900.0 675.7 902.2 681.3 906.7 685.7 913.4 689.1 920.1 691.3M1054.0 601.8 1048.9 605.1 1044.4 609.6 1036.5 613.0 1032.1 619.7 1028.7 626.4 1029.8 635.4 1030.9 644.3 1036.5 642.1 1045.5 644.3 1048.9 647.7 1054.0 648.8M1048.9 606.3 1050.0 617.4 1054.0 619.7M1054.0 189.6 1060.7 188.5 1069.7 187.9 1078.6 188.5 1087.6 189.6 1096.5 187.9 1105.5 187.4 1114.4 186.3 1123.4 185.1 1132.4 184.0 1136.8 181.8 1145.8 179.5 1154.7 177.9 1163.7 177.3 1172.7 177.9 1179.4 179.5 1181.6 182.9 1179.4 186.3 1174.9 188.5 1165.9 189.6 1157.0 191.9 1148.0 193.0 1139.1 194.1 1130.1 195.2 1121.2 196.3 1112.2 197.4 1103.3 198.0 1094.3 197.4 1087.6 199.7 1078.6 201.9 1069.7 203.0 1063.0 206.4 1058.5 209.8 1054.0 210.9M1141.3 266.9 1143.6 262.4 1149.1 259.0 1154.7 257.3 1161.5 255.7 1168.2 253.4 1172.7 248.9 1174.9 243.3 1177.1 238.9 1181.6 235.5 1188.3 235.5 1192.8 233.3 1192.8 228.8 1199.5 227.1 1208.5 226.6 1215.2 228.8 1217.4 232.1 1215.2 234.4 1208.5 235.5 1199.5 235.5 1192.8 234.4M1215.2 234.4 1221.9 235.5 1228.6 236.6 1234.2 238.9 1233.1 243.3 1228.6 247.8 1224.1 252.3 1217.4 255.7 1224.1 257.9 1230.9 260.1 1233.1 265.7 1230.9 271.3 1228.6 277.0M1141.3 266.9 1143.6 270.2 1150.3 272.4 1152.5 277.0M1251.0 233.3 1257.7 233.3 1262.2 235.5 1264.0 241.1 1262.2 245.6 1255.5 247.8 1246.5 250.1 1239.8 253.4 1235.3 256.8 1242.1 257.9 1248.8 262.4 1254.4 268.0 1248.8 272.4 1246.5 277.0M1054.0 275.0 1060.7 277.2 1069.7 277.2 1083.1 278.3 1096.5 279.5 1107.7 281.7 1118.9 283.9 1127.9 286.2 1139.1 288.4 1150.3 291.8 1159.2 295.1 1165.9 298.5 1170.4 301.9 1174.9 299.6 1180.5 291.8 1183.9 289.5 1177.1 290.7 1172.7 292.9 1168.2 288.4 1165.9 282.8 1159.2 280.6 1154.7 280.6M1154.7 280.6 1155.9 273.9 1154.7 264.9 1150.3 263.8 1145.8 263.8 1142.4 266.0 1145.8 269.4 1150.3 271.6 1152.5 275.0M1142.4 266.0 1144.7 261.6 1149.1 258.2 1159.2 256.0 1168.2 253.7 1172.7 250.4 1177.1 247.0M1054.0 275.0 1058.5 279.5 1065.2 285.1 1067.4 289.5 1069.7 292.9 1060.7 292.9 1054.0 295.1M1230.9 247.0 1224.1 251.5 1218.6 256.0 1224.1 258.2 1230.9 261.6 1232.0 269.4 1227.5 271.6 1229.7 280.6 1228.6 289.5 1235.3 292.9 1244.3 296.3 1238.7 300.7 1235.3 305.2 1237.6 307.4 1228.6 310.8 1221.9 314.2 1219.7 317.5 1210.7 319.8 1208.5 323.1 1199.5 320.9 1188.3 319.8 1181.6 322.0 1181.6 325.4 1190.6 327.0 1204.0 326.5 1210.7 325.4 1216.3 326.5 1221.9 329.8 1226.4 327.6 1227.5 323.1 1235.3 322.0 1244.3 318.6 1251.0 313.0 1258.9 309.7 1262.2 305.2 1255.5 299.6 1254.4 296.3 1264.0 291.8M1264.0 247.0 1253.3 250.4 1242.1 252.6 1235.3 256.0 1244.3 259.3 1251.0 263.8 1255.5 268.3 1248.8 272.7 1244.3 277.2 1244.3 281.7 1248.8 283.9 1246.5 288.4 1264.0 288.4M1339.0 226.6 1349.1 225.4 1360.3 224.9 1371.5 225.4 1382.7 225.4 1391.6 223.8 1400.6 223.2 1409.5 223.8 1418.5 222.6 1427.4 221.0 1436.4 219.3M1339.0 226.6 1337.9 231.0 1342.4 234.4 1344.6 240.0 1346.8 243.3 1355.8 243.3 1364.7 244.5 1371.5 248.9 1375.9 250.1 1382.7 251.2 1384.9 254.5 1378.2 256.8 1371.5 257.9 1364.7 260.1 1364.7 266.9 1362.5 270.2 1369.2 271.3 1371.5 277.0M1311.0 242.2 1322.2 243.3 1331.2 244.5 1340.1 247.8 1349.1 251.2 1353.6 253.4 1364.7 253.4 1371.5 251.2M1264.0 236.1 1268.5 236.6 1274.1 241.1 1273.0 245.6 1268.5 248.9 1269.6 253.4 1266.2 255.7 1268.5 257.9 1277.4 260.1 1288.6 261.3 1299.8 261.3 1306.5 259.0 1313.3 262.4 1311.0 265.2 1304.3 263.5M1289.7 242.2 1297.6 240.0 1308.8 240.0 1311.0 243.3 1306.5 246.7 1308.8 250.1 1300.9 252.3 1292.0 248.9ZM1277.4 248.9 1286.4 247.8 1293.1 253.4 1303.2 256.8 1292.0 255.7 1283.0 254.5ZM1313.8 235.5 1315.5 231.0 1324.4 230.5 1327.8 235.5 1326.7 238.9 1314.4 238.3ZM1054.0 602.9 1060.7 601.8 1069.7 600.1 1076.4 600.1 1076.4 604.0 1073.0 607.4 1067.4 608.5 1060.7 607.4 1054.0 608.5M1070.8 608.5 1068.6 615.2 1071.9 620.8 1079.7 624.2 1080.9 626.4 1074.1 629.8 1068.6 633.1 1066.3 637.6 1063.0 642.1 1067.4 644.3 1065.2 646.6 1058.5 646.6 1054.0 647.7M1054.0 615.2 1056.2 616.3M1264.0 599.5 1257.7 601.8 1251.0 606.3 1244.3 609.6 1240.9 615.2 1243.2 619.7 1248.8 624.2 1252.1 626.4 1251.0 619.7 1255.5 613.0 1260.0 609.6 1264.0 606.3M1313.3 601.8 1320.0 600.1 1324.4 602.9 1322.2 607.4 1313.3 608.5M1530.0 142.6 1536.7 146.0 1543.4 149.3 1554.6 150.4 1563.6 151.0 1574.7 152.7 1585.9 153.2 1596.0 154.9 1606.1 153.8 1612.8 151.6 1610.6 147.1 1603.9 146.0 1610.6 143.7 1617.3 141.5M1605.0 162.7 1612.8 158.3 1619.5 153.8 1625.1 149.3 1633.0 146.0 1641.9 144.3 1653.1 143.7 1657.6 146.0 1653.1 149.3 1648.6 152.7 1653.1 148.2 1664.3 147.1 1673.3 149.3 1684.0 151.6M1605.0 162.7 1610.6 165.0 1619.5 163.9 1628.5 162.2 1641.9 161.1 1653.1 159.9 1664.3 159.4 1675.5 158.8 1684.0 158.3M1684.0 175.1 1697.4 176.2 1710.9 179.5M1723.2 177.3 1728.8 180.7 1740.0 181.8 1751.2 182.3 1760.1 180.7 1769.1 180.7 1778.0 181.8 1787.0 182.9 1795.9 186.3 1803.8 186.3 1804.9 191.9 1810.5 194.1 1807.1 200.8 1802.7 204.2 1795.9 205.3 1789.2 206.4 1782.5 208.6 1773.6 210.9 1764.6 212.0 1755.6 214.2 1746.7 215.4 1740.0 218.7 1731.0 222.1 1722.1 224.3 1712.0 225.4 1706.4 228.8 1697.4 231.0 1693.0 235.5 1688.5 237.7M1710.9 229.9 1722.1 229.9 1733.3 227.7 1744.4 225.4 1755.6 224.3M1795.9 219.8 1800.4 225.4 1804.9 231.0 1811.6 229.9 1818.3 225.4 1827.3 223.8 1838.5 223.8 1847.4 225.4 1856.4 226.6 1867.6 226.6 1878.8 226.6 1881.0 228.8 1874.3 229.9 1874.3 232.1 1883.3 232.1 1894.0 233.3M2189.1 195.2 2198.0 194.1 2204.7 195.2 2207.0 199.7 2211.5 204.2 2209.2 207.5M2213.7 197.4 2222.7 196.3 2231.6 197.4 2239.4 199.7 2236.1 203.0 2227.1 204.7 2218.2 204.2 2213.7 200.8ZM2260.7 200.8 2264.1 198.0 2269.7 199.7 2276.4 200.2 2285.3 199.7 2294.3 200.8 2303.3 201.9 2310.0 201.4M2260.7 200.8 2260.7 203.6 2269.7 205.3 2278.6 207.5 2287.6 209.8 2298.8 210.9 2310.0 209.8M2276.4 204.2 2285.3 203.0 2294.3 204.2 2303.3 205.3 2310.0 204.2M2175.6 217.6 2182.4 215.9 2190.2 216.5 2190.2 219.8 2186.8 222.1 2182.4 223.2 2176.8 221.5 2175.6 218.7ZM2171.2 228.8 2180.1 227.7 2186.8 224.3 2195.8 222.1 2204.7 221.0 2213.7 223.2 2222.7 226.6 2224.9 231.0 2220.4 232.7 2211.5 231.0 2202.5 229.9 2193.6 228.8 2184.6 227.7ZM2310.1 418.5 2302.7 421.5 2296.7 424.5 2302.7 427.4 2290.7 426.0 2278.8 425.2 2266.8 423.7 2257.9 427.4 2251.9 424.5 2240.0 424.5 2228.0 424.5 2216.1 426.0 2207.1 427.4 2201.2 430.4 2192.2 436.4 2183.3 440.9 2180.3 446.9 2171.3 449.1 2162.4 453.6 2153.4 458.8 2148.9 464.8 2141.5 469.2 2135.5 473.7 2126.5 478.2 2117.6 483.4 2108.6 486.4 2105.6 488.6 2111.6 491.6 2120.6 493.1 2128.0 493.1M2157.9 500.6 2159.4 496.1 2168.3 496.1 2175.8 499.1 2180.3 503.6 2189.2 506.6 2195.2 509.5 2192.2 514.0 2183.3 512.5 2189.2 517.0 2192.2 523.0 2195.2 527.4 2186.2 533.4 2181.8 540.9 2180.3 548.3 2183.3 555.8 2180.3 564.8 2177.3 572.2 2175.8 578.2 2168.3 581.2 2162.4 587.1 2156.4 594.6 2151.9 600.6 2150.4 604.0M2195.2 527.4 2201.2 534.9 2205.6 542.4 2202.7 551.3 2204.1 560.3 2201.2 570.7 2201.2 578.2 2204.1 585.7 2201.2 593.1 2201.2 604.0M2195.2 527.4 2198.2 520.0 2199.7 508.0 2208.6 506.6 2213.1 502.1 2207.1 496.1 2213.1 494.6 2216.1 500.6 2219.1 509.5 2220.6 518.5 2217.6 527.4 2220.6 536.4 2225.0 545.4 2228.0 554.3 2232.5 563.3 2237.0 572.2 2240.0 576.7M2237.0 572.2 2231.0 566.3 2222.1 566.3 2216.1 567.7 2213.1 575.2 2210.1 582.7 2211.6 590.1 2217.6 596.1 2219.1 604.0M2182.8 557.0 2178.3 568.2 2171.6 579.4 2160.4 588.3 2151.5 599.5 2140.3 608.5 2131.3 617.4 2122.4 626.4 2113.4 635.4 2106.7 644.3 2095.5 651.0 2086.5 656.6 2075.3 657.7 2066.4 655.5 2064.1 649.9 2057.4 649.9 2050.7 655.5 2041.8 660.0 2032.8 666.7 2030.6 675.7 2028.3 684.6 2019.4 690.2 2014.9 693.6M2203.0 557.0 2200.7 568.2 2205.2 579.4 2203.0 595.1 2200.7 608.5 2205.2 613.0 2211.9 601.8 2216.4 608.5 2223.1 610.7 2223.1 601.8 2214.1 590.6 2209.7 581.6 2211.9 572.7 2218.6 567.1 2229.8 566.0 2238.8 572.7 2241.0 577.1M2187.3 621.9 2196.2 619.7 2203.0 624.2 2211.9 630.9 2223.1 635.4 2234.3 638.7 2243.3 638.7 2250.0 635.4 2243.3 646.6 2236.5 651.0 2225.3 660.0 2220.9 668.9 2211.9 664.5 2198.5 660.0 2187.3 662.2 2178.3 666.7 2173.9 673.4 2182.8 677.9 2191.8 682.4 2194.0 691.3M2187.3 621.9 2194.0 630.9 2196.2 642.1 2191.8 651.0 2180.6 651.0 2178.3 660.0M558.2 269.3 573.1 263.7 588.1 267.4 603.0 261.8M945.1 236.4 961.9 223.7 980.6 217.8 999.3 205.8 1021.6 199.1 1051.5 191.6 1073.9 189.4M1256.7 295.4 1271.6 289.8 1290.3 289.8 1303.4 295.4 1297.8 302.8 1309.0 306.6 1316.4 311.0M1364.9 261.8 1376.1 254.3 1387.3 259.9 1379.9 269.3 1389.2 278.6 1372.4 273.0"/>
<path class="coast" shape-rendering="auto" fill="none" stroke="#000" stroke-width="3.8" stroke-linejoin="round" stroke-linecap="round" d="M413.3 170.6 439.1 170.6M373.0 144.8 383.1 147.1 387.6 150.4 380.9 153.8 398.8 156.0 410.0 157.1 416.7 153.8 430.1 151.6 430.1 154.9M423.4 142.6 432.4 149.3 443.6 151.6M360.7 151.6 370.8 154.9 380.9 160.5M292.4 388.9 303.6 390.1 312.5 388.9M290.1 397.9 301.3 401.3 314.7 397.9 319.2 395.7M294.6 411.3 303.6 409.1 311.4 408.0M291.2 403.5 299.1 404.6 306.9 402.4M351.7 366.6 359.5 363.2 368.5 357.6 373.0 362.1 365.1 365.4 353.9 368.8M377.4 336.3 384.1 335.2 393.1 339.7 395.3 343.0M404.3 326.3 411.0 327.4 406.5 329.6 397.6 333.0M361.8 346.4 370.7 348.6 377.4 353.1M485.6 411.3 491.2 410.2 502.4 411.3 509.1 408.0 519.1 408.0 530.3 411.3 537.1 412.4 547.1 413.6 558.3 412.4 569.5 410.2 580.7 409.1 591.9 408.0 603.1 408.0 614.3 406.9 625.5 409.1 634.0 411.3M527.0 691.3 531.5 688.0 535.9 691.3 542.7 690.2 544.9 685.7 551.6 683.5 558.3 683.5 565.0 681.3 571.8 682.4 577.4 685.7 578.5 690.2 585.2 688.0 591.9 686.9 598.6 683.5 607.6 681.3 616.5 682.4 625.5 684.6 634.0 684.6M733.6 413.6 738.1 410.8 743.7 411.3 745.9 414.7 744.8 417.0M1294.2 245.6 1302.1 244.5M1296.5 248.9 1303.2 248.9M1267.4 227.7 1275.2 226.6 1287.5 227.1 1288.6 229.4M1626.2 151.6 1633.0 150.4 1636.3 148.2M1474.0 199.1 1485.2 197.4 1496.4 195.2 1507.6 193.0 1518.8 191.9 1530.0 189.6 1541.2 188.5 1552.4 189.6 1563.6 191.9 1574.7 190.7 1585.9 189.6 1597.1 187.4 1608.3 187.4 1619.5 186.3 1628.5 185.1 1630.7 180.7 1628.5 178.4 1635.2 175.1 1644.1 171.7 1653.1 169.5 1664.3 168.3 1673.3 167.2 1684.0 168.3M1684.0 151.6 1689.6 153.8 1690.7 158.3 1684.0 161.1M1894.0 233.3 1900.7 233.8 1905.2 235.5 1916.4 235.5 1927.6 234.9 1938.8 235.5 1942.1 232.1 1939.9 227.7 1943.3 224.3 1950.0 224.3 1954.4 222.1 1961.2 221.5 1965.6 224.3 1972.4 226.6 1979.1 227.7 1983.6 229.9 1990.3 228.8 1999.2 229.4 2008.2 229.9 2017.1 231.0 2023.9 233.3 2026.1 237.7 2025.0 241.1 2028.3 244.5 2026.1 247.8 2028.3 252.3 2023.9 254.5 2026.1 257.9 2030.6 260.1 2037.3 262.4 2044.0 264.6 2050.7 265.7 2055.2 263.5 2059.7 259.0 2064.1 254.5 2068.6 251.2 2073.1 248.9 2079.8 248.9 2077.6 252.3 2082.1 255.7 2091.0 257.9 2100.0 257.9 2104.0 255.7M2110.7 200.8 2113.0 195.2 2116.3 193.5 2123.0 197.4 2120.8 200.8 2115.2 203.0ZM2130.9 200.8 2134.2 195.2 2142.1 191.9 2152.1 189.6 2162.2 189.1 2171.2 191.9 2180.1 195.2 2185.7 195.2 2186.8 191.9 2193.6 189.6 2202.5 190.2 2209.2 193.0 2215.9 194.1 2224.9 193.5 2233.9 194.1 2242.8 196.3 2250.6 198.0 2249.5 200.8 2242.8 201.9 2238.3 205.3 2229.4 208.6 2220.4 209.2 2211.5 209.8 2204.7 208.6 2198.0 206.4 2189.1 207.0 2180.1 208.1 2171.2 206.4 2166.7 208.6 2162.2 211.4 2153.3 210.9 2146.5 208.6 2139.8 205.3 2133.1 204.2ZM2104.0 255.7 2110.7 254.0 2117.4 253.4 2126.4 255.7 2135.3 256.8 2142.1 257.9 2148.8 254.5 2152.1 251.2 2156.6 253.4 2162.2 256.8 2171.2 255.7 2173.4 251.2 2168.9 247.8 2162.2 245.6 2166.7 242.2 2175.6 241.1 2184.6 240.0 2191.3 238.9 2186.8 236.1 2193.6 236.6 2200.3 238.3 2211.5 238.9 2222.7 239.4 2233.9 240.0 2245.0 240.5 2256.2 241.1 2267.4 242.8 2278.6 243.9 2289.8 243.9 2301.0 245.0 2310.0 245.6M2135.5 487.1 2138.5 494.6 2137.0 502.1M2173.9 666.7 2182.8 664.5 2185.0 673.4 2178.3 680.1 2173.9 686.9 2182.8 684.6 2187.3 677.9M1900.7 691.3 1905.2 685.7 1914.1 682.4 1923.1 683.5 1926.5 691.3M2061.5 625.3 2064.1 621.5 2070.9 621.5 2074.9 625.3 2072.0 632.0 2065.3 633.1ZM517.2 265.5 554.5 262.5 595.5 261.0 625.4 263.7 647.8 269.3 632.8 274.9 610.4 273.0 640.3 278.6 662.7 280.4 677.6 284.2M731.7 433.4 744.8 427.8 759.7 437.2 756.0 443.9 741.0 441.6ZM961.9 222.6 976.9 226.3 991.8 220.7 1006.7 213.3 999.3 209.6M943.3 243.1 958.2 248.7 973.1 258.8"/>
<path class="coast" shape-rendering="auto" fill="none" stroke="#000" stroke-width="4.3" stroke-linejoin="round" stroke-linecap="round" d="M415.6 159.4 432.4 158.3 457.0 158.3M414.4 165.0 432.4 163.9 452.5 166.1M283.4 388.9 292.4 384.5 303.6 381.1 314.7 375.5 325.9 373.3 334.9 373.3M388.6 308.3 397.6 302.7 408.8 299.4 417.7 294.9 424.0 291.6M424.0 305.0 430.7 303.9 437.4 299.4 446.4 299.4 453.1 294.9 460.9 293.8M424.0 313.9 433.0 308.3 438.6 302.7M491.2 417.0 502.4 418.1 513.6 419.2 524.7 418.1 535.9 417.0M424.0 633.1 430.7 637.6 437.4 644.3 446.4 647.7 455.3 653.3 464.3 657.7 473.3 662.2 480.0 666.7 485.6 671.2 486.7 677.9 484.4 685.7 484.4 692.4M687.7 381.1 693.3 384.5 696.7 377.7 701.2 375.5 710.1 378.9 715.7 382.2 712.4 386.7 716.8 391.2 722.4 395.7 723.6 400.1 719.1 403.5 712.4 404.6 705.6 401.3 700.0 400.1 700.0 395.7 696.7 390.1 693.3 386.7M944.7 295.4 951.5 296.6M654.1 601.8 659.7 604.0 665.3 606.3M1152.5 264.6 1155.9 270.2 1154.7 277.0M1182.7 323.7 1195.0 323.1 1207.4 323.7M1709.1 512.5 1719.5 510.5M1735.2 505.3 1743.0 502.7M1479.6 141.5 1490.8 143.2 1505.3 143.7 1518.8 143.2 1530.0 142.6M1606.1 163.9 1612.8 161.1 1619.5 157.1M1684.0 170.6 1695.2 170.0 1706.4 171.7 1723.2 172.8 1717.6 178.4 1712.0 182.9 1704.1 185.1M1748.9 217.6 1760.1 215.4 1771.3 215.4 1782.5 213.1 1795.9 210.9 1802.7 214.2 1793.7 217.6 1782.5 219.8 1791.5 223.2 1780.3 224.3 1771.3 221.0 1762.4 222.1 1751.2 224.3 1746.7 222.1M2128.0 488.6 2131.0 484.9 2141.5 484.2 2153.4 484.9 2148.9 488.6 2144.4 491.6 2144.4 497.6 2153.4 500.6 2157.9 502.8 2153.4 506.6 2144.4 508.0 2135.5 506.6 2129.5 503.6 2129.5 494.6ZM2245.5 644.3 2254.4 639.8 2263.4 635.4M2272.4 630.9 2283.6 624.2 2297.0 619.7"/>
<path class="coast" shape-rendering="auto" fill="none" stroke="#000" stroke-width="4.5" stroke-linejoin="round" stroke-linecap="round" d="M471.5 277.0 477.1 273.0 488.3 271.3 499.5 272.4 510.7 271.3 519.7 266.9 533.1 264.6 546.5 261.3 564.0 261.3M519.7 271.3 533.1 269.1 544.3 265.7 555.5 266.9M280.0 417.0 281.2 405.7 281.2 394.5 285.6 386.7 295.7 380.0 306.9 376.6 321.5 369.9 332.7 365.4 343.9 364.3 352.8 359.8 362.9 353.1 365.1 347.5 375.2 344.2 381.9 339.7 386.4 330.7 388.6 325.1 397.6 320.7 406.5 313.9 415.5 309.5 424.0 306.1M424.0 291.6 433.0 289.3 441.9 286.0 452.0 282.6 463.2 280.4 477.7 278.1 491.2 277.0"/>
<path class="coast" shape-rendering="auto" fill="none" stroke="#000" stroke-width="4.8" stroke-linejoin="round" stroke-linecap="round" d="M621.0 277.0 625.5 280.4 634.0 281.5M466.5 423.7 473.3 422.6 480.0 419.2M520.3 431.6 529.2 430.4 538.2 429.3 544.9 431.6 542.7 434.9 533.7 437.1 524.7 439.4 519.1 442.7 518.0 438.3M667.6 318.4 674.3 321.8 678.8 327.4 682.1 325.1M696.7 613.0 701.2 609.6 705.6 606.3M721.3 621.4 730.3 621.9M1251.0 233.8 1258.9 234.4M1264.0 603.5 1277.4 601.8 1297.6 604.0 1313.3 605.7 1322.2 604.0M1782.5 184.0 1791.5 186.3 1795.9 190.7 1789.2 195.2 1800.4 195.2 1802.7 199.7M1688.5 237.7 1695.2 234.4 1701.9 232.1M2162.2 243.3 2171.2 241.1 2177.9 242.2M330.4 485.2 334.9 496.4 339.4 503.1M281.2 516.6 287.9 514.3 292.4 521.0M261.0 534.5 270.0 531.1 276.7 532.2"/>
<path class="coast" shape-rendering="auto" fill="none" stroke="#000" stroke-width="5.3" stroke-linejoin="round" stroke-linecap="round" d="M660.9 280.4 669.8 281.5 676.5 283.7 675.4 290.4M1405.0 209.8 1416.2 207.5 1429.7 205.3 1443.1 204.2 1454.3 201.9 1463.3 199.7 1474.0 198.0M357.3 418.1 361.8 422.5M444.6 436.0 449.1 447.2 446.8 456.1 442.4 465.1M486.0 412.5 500.6 414.7 514.0 413.6 527.4 415.8 536.4 413.6M520.7 436.0 531.9 433.7 540.9 431.5M592.4 415.8 603.6 418.1 614.7 413.6"/>
<path class="coast" shape-rendering="auto" fill="none" stroke="#000" stroke-width="5.8" stroke-linejoin="round" stroke-linecap="round" d="M2012.7 232.1 2021.6 236.6 2017.1 241.1 2012.7 244.5 2019.4 248.9 2017.1 253.4M287.9 389.0 303.6 386.7 317.0 382.2M290.1 401.3 303.6 399.0 314.7 395.7M292.4 411.3 303.6 408.0 310.3 406.9M357.3 469.6 370.7 471.8 384.1 469.6"/>
<path class="coast" shape-rendering="auto" fill="none" stroke="#000" stroke-width="6.3" stroke-linejoin="round" stroke-linecap="round" d="M1396.1 214.2 1407.3 212.0 1418.5 209.8 1429.7 208.6 1434.1 213.1 1431.9 217.6 1436.4 219.8M348.3 478.5 361.8 474.0 375.2 478.5 386.4 476.3M348.3 487.5 361.8 491.9 375.2 485.2 386.4 487.5"/>
<path class="coast" shape-rendering="auto" fill="none" stroke="#000" stroke-width="9.8" stroke-linejoin="round" stroke-linecap="round" d="M282.3 384.5 281.2 400.1 284.5 415.8 289.0 425.9"/>
<rect x="913.9" y="346.4" width="980.4" height="209.8" fill="none" stroke="#000" stroke-width="10.5"/>
</g>
<g id="a-axes" stroke="#000" fill="none">
<rect x="213.6" y="136.6" width="2100.8" height="559.5" stroke-width="8.9"/>
<line x1="199.5" x2="213.6" y1="696.1" y2="696.1" stroke-width="7" stroke-linecap="round"/>
<line x1="203.5" x2="213.6" y1="668.1" y2="668.1" stroke-width="5" stroke-linecap="round"/>
<line x1="203.5" x2="213.6" y1="640.1" y2="640.1" stroke-width="5" stroke-linecap="round"/>
<line x1="203.5" x2="213.6" y1="612.2" y2="612.2" stroke-width="5" stroke-linecap="round"/>
<line x1="203.5" x2="213.6" y1="584.2" y2="584.2" stroke-width="5" stroke-linecap="round"/>
<line x1="199.5" x2="213.6" y1="556.2" y2="556.2" stroke-width="7" stroke-linecap="round"/>
<line x1="203.5" x2="213.6" y1="528.2" y2="528.2" stroke-width="5" stroke-linecap="round"/>
<line x1="203.5" x2="213.6" y1="500.3" y2="500.3" stroke-width="5" stroke-linecap="round"/>
<line x1="203.5" x2="213.6" y1="472.3" y2="472.3" stroke-width="5" stroke-linecap="round"/>
<line x1="203.5" x2="213.6" y1="444.3" y2="444.3" stroke-width="5" stroke-linecap="round"/>
<line x1="199.5" x2="213.6" y1="416.4" y2="416.4" stroke-width="7" stroke-linecap="round"/>
<line x1="203.5" x2="213.6" y1="388.4" y2="388.4" stroke-width="5" stroke-linecap="round"/>
<line x1="203.5" x2="213.6" y1="360.4" y2="360.4" stroke-width="5" stroke-linecap="round"/>
<line x1="203.5" x2="213.6" y1="332.4" y2="332.4" stroke-width="5" stroke-linecap="round"/>
<line x1="203.5" x2="213.6" y1="304.5" y2="304.5" stroke-width="5" stroke-linecap="round"/>
<line x1="199.5" x2="213.6" y1="276.5" y2="276.5" stroke-width="7" stroke-linecap="round"/>
<line x1="203.5" x2="213.6" y1="248.5" y2="248.5" stroke-width="5" stroke-linecap="round"/>
<line x1="203.5" x2="213.6" y1="220.5" y2="220.5" stroke-width="5" stroke-linecap="round"/>
<line x1="203.5" x2="213.6" y1="192.6" y2="192.6" stroke-width="5" stroke-linecap="round"/>
<line x1="203.5" x2="213.6" y1="164.6" y2="164.6" stroke-width="5" stroke-linecap="round"/>
<line x1="199.5" x2="213.6" y1="136.6" y2="136.6" stroke-width="7" stroke-linecap="round"/>
<line x1="213.6" x2="213.6" y1="696.1" y2="709.5" stroke-width="6.8" stroke-linecap="round"/>
<line x1="353.7" x2="353.7" y1="696.1" y2="705.5" stroke-width="4.8" stroke-linecap="round"/>
<line x1="493.7" x2="493.7" y1="696.1" y2="705.5" stroke-width="4.8" stroke-linecap="round"/>
<line x1="633.8" x2="633.8" y1="696.1" y2="709.5" stroke-width="6.8" stroke-linecap="round"/>
<line x1="773.8" x2="773.8" y1="696.1" y2="705.5" stroke-width="4.8" stroke-linecap="round"/>
<line x1="913.9" x2="913.9" y1="696.1" y2="705.5" stroke-width="4.8" stroke-linecap="round"/>
<line x1="1053.9" x2="1053.9" y1="696.1" y2="709.5" stroke-width="6.8" stroke-linecap="round"/>
<line x1="1194.0" x2="1194.0" y1="696.1" y2="705.5" stroke-width="4.8" stroke-linecap="round"/>
<line x1="1334.0" x2="1334.0" y1="696.1" y2="705.5" stroke-width="4.8" stroke-linecap="round"/>
<line x1="1474.1" x2="1474.1" y1="696.1" y2="709.5" stroke-width="6.8" stroke-linecap="round"/>
<line x1="1614.1" x2="1614.1" y1="696.1" y2="705.5" stroke-width="4.8" stroke-linecap="round"/>
<line x1="1754.2" x2="1754.2" y1="696.1" y2="705.5" stroke-width="4.8" stroke-linecap="round"/>
<line x1="1894.2" x2="1894.2" y1="696.1" y2="709.5" stroke-width="6.8" stroke-linecap="round"/>
<line x1="2034.3" x2="2034.3" y1="696.1" y2="705.5" stroke-width="4.8" stroke-linecap="round"/>
<line x1="2174.3" x2="2174.3" y1="696.1" y2="705.5" stroke-width="4.8" stroke-linecap="round"/>
<line x1="2314.4" x2="2314.4" y1="696.1" y2="709.5" stroke-width="6.8" stroke-linecap="round"/>
</g>
<g id="a-labels" font-family="Liberation Sans, Arial, Helvetica, sans-serif" font-weight="bold" fill="#000" stroke="#000" stroke-linejoin="miter" style="font-kerning:none;font-variant-ligatures:none">
<text transform="translate(133.7 721.1) scale(0.953 1)" font-size="68.3" stroke-width="2.0">N</text><text x="106.1" y="720.2" font-size="75.1" stroke="none">°</text><text transform="translate(36.5 721.1) scale(0.948 1)" font-size="68.3" stroke-width="2.0">40</text>
<text transform="translate(133.7 581.2) scale(0.953 1)" font-size="68.3" stroke-width="2.0">N</text><text x="106.1" y="580.3" font-size="75.1" stroke="none">°</text><text transform="translate(36.5 581.2) scale(0.948 1)" font-size="68.3" stroke-width="2.0">50</text>
<text transform="translate(133.7 441.3) scale(0.953 1)" font-size="68.3" stroke-width="2.0">N</text><text x="106.1" y="440.4" font-size="75.1" stroke="none">°</text><text transform="translate(36.5 441.3) scale(0.948 1)" font-size="68.3" stroke-width="2.0">60</text>
<text transform="translate(133.7 301.5) scale(0.953 1)" font-size="68.3" stroke-width="2.0">N</text><text x="106.1" y="300.5" font-size="75.1" stroke="none">°</text><text transform="translate(36.5 301.5) scale(0.948 1)" font-size="68.3" stroke-width="2.0">70</text>
<text transform="translate(133.7 161.6) scale(0.953 1)" font-size="68.3" stroke-width="2.0">N</text><text x="106.1" y="160.7" font-size="75.1" stroke="none">°</text><text transform="translate(36.5 161.6) scale(0.948 1)" font-size="68.3" stroke-width="2.0">80</text>
<text transform="translate(181.6 787.1) scale(0.945 1)" font-size="68.3" stroke-width="2.0">0</text><text x="215.4" y="786.0" font-size="75.1" stroke="none">°</text>
<text transform="translate(564.1 787.1) scale(0.945 1)" font-size="68.3" stroke-width="2.0">30</text><text x="633.7" y="786.0" font-size="75.1" stroke="none">°</text><text transform="translate(662.8 787.1) scale(0.912 1)" font-size="68.3" stroke-width="2.0">E</text>
<text transform="translate(983.8 787.1) scale(0.945 1)" font-size="68.3" stroke-width="2.0">60</text><text x="1053.4" y="786.0" font-size="75.1" stroke="none">°</text><text transform="translate(1082.5 787.1) scale(0.912 1)" font-size="68.3" stroke-width="2.0">E</text>
<text transform="translate(1404.0 787.1) scale(0.945 1)" font-size="68.3" stroke-width="2.0">90</text><text x="1473.7" y="786.0" font-size="75.1" stroke="none">°</text><text transform="translate(1502.8 787.1) scale(0.912 1)" font-size="68.3" stroke-width="2.0">E</text>
<text transform="translate(1805.2 787.1) scale(0.945 1)" font-size="68.3" stroke-width="2.0">120</text><path fill="#fff" stroke="none" d="M1806.9 778.1H1819.2V789.1H1806.9ZM1830.1 778.1H1841.5V789.1H1830.1Z"/><text x="1910.7" y="786.0" font-size="75.1" stroke="none">°</text><text transform="translate(1939.8 787.1) scale(0.912 1)" font-size="68.3" stroke-width="2.0">E</text>
<text transform="translate(2225.3 787.1) scale(0.945 1)" font-size="68.3" stroke-width="2.0">150</text><path fill="#fff" stroke="none" d="M2227.1 778.1H2239.4V789.1H2227.1ZM2250.3 778.1H2261.7V789.1H2250.3Z"/><text x="2330.8" y="786.0" font-size="75.1" stroke="none">°</text><text transform="translate(2359.9 787.1) scale(0.912 1)" font-size="68.3" stroke-width="2.0">E</text>
<text transform="translate(210.6 92.4) scale(0.965 1)" font-size="80.5" stroke-width="2.4">(a) NDVI AMJ EOF1</text><path fill="#fff" stroke="none" d="M881.7 82.0H896.2V94.6H881.7ZM909.3 82.0H922.8V94.6H909.3Z"/>
<text transform="translate(2088.1 106.2) scale(1.000 1)" font-size="80.5" stroke-width="2.4">15.1%</text><path fill="#fff" stroke="none" d="M2090.6 95.8H2105.7V108.4H2090.6ZM2119.1 95.8H2133.1V108.4H2119.1Z"/><path fill="#fff" stroke="none" d="M2202.5 95.8H2217.6V108.4H2202.5ZM2231.0 95.8H2245.0V108.4H2231.0Z"/>
</g>
<g id="cbar" stroke="#000" stroke-width="3" shape-rendering="crispEdges">
<rect x="483.4" y="836" width="195.1" height="50.2" fill="#940000"/>
<rect x="678.5" y="836" width="195.1" height="50.2" fill="#D8761A"/>
<rect x="873.6" y="836" width="195.1" height="50.2" fill="#F0C696"/>
<rect x="1068.7" y="836" width="195.1" height="50.2" fill="#A5DC82"/>
<rect x="1263.8" y="836" width="195.1" height="50.2" fill="#00AE10"/>
<rect x="1458.9" y="836" width="195.1" height="50.2" fill="#007600"/>
<rect x="1654.0" y="836" width="195.1" height="50.2" fill="#006000"/>
<rect x="1849.1" y="836" width="195.1" height="50.2" fill="#004A00"/>
</g>
<g id="cbar-labels" font-family="Liberation Sans, Arial, Helvetica, sans-serif" font-weight="bold" fill="#000" stroke="#000" stroke-linejoin="miter" style="font-kerning:none;font-variant-ligatures:none">
<text transform="translate(604.6 947.2) scale(0.978 1)" font-size="66.3" stroke-width="2.0">-0.02</text>
<text transform="translate(804.9 947.2) scale(0.961 1)" font-size="66.3" stroke-width="2.0">-0.01</text><path fill="#fff" stroke="none" d="M916.4 938.4H928.5V949.2H916.4ZM939.3 938.4H950.5V949.2H939.3Z"/>
<text transform="translate(1050.7 947.2) scale(0.978 1)" font-size="66.3" stroke-width="2.0">0</text>
<text transform="translate(1205.6 947.2) scale(0.961 1)" font-size="66.3" stroke-width="2.0">0.01</text><path fill="#fff" stroke="none" d="M1296.0 938.4H1308.1V949.2H1296.0ZM1318.8 938.4H1330.1V949.2H1318.8Z"/>
<text transform="translate(1395.8 947.2) scale(0.978 1)" font-size="66.3" stroke-width="2.0">0.02</text>
<text transform="translate(1590.8 947.2) scale(0.978 1)" font-size="66.3" stroke-width="2.0">0.03</text>
<text transform="translate(1784.9 947.2) scale(0.978 1)" font-size="66.3" stroke-width="2.0">0.04</text>
</g>
<g id="b-bars" shape-rendering="crispEdges">
<rect x="259.0" y="1417.3" width="26.8" height="18.6" fill="#FF0000"/>
<rect x="319.0" y="1435.9" width="26.8" height="58.2" fill="#0000FF"/>
<rect x="379.1" y="1435.9" width="26.8" height="48.2" fill="#0000FF"/>
<rect x="439.1" y="1435.9" width="26.8" height="68.1" fill="#0000FF"/>
<rect x="499.1" y="1435.9" width="26.8" height="41.3" fill="#0000FF"/>
<rect x="559.2" y="1435.9" width="26.8" height="117.1" fill="#0000FF"/>
<rect x="619.2" y="1416.2" width="26.8" height="19.7" fill="#FF0000"/>
<rect x="679.3" y="1435.9" width="26.8" height="29.9" fill="#0000FF"/>
<rect x="739.4" y="1343.4" width="26.8" height="92.5" fill="#FF0000"/>
<rect x="799.4" y="1356.4" width="26.8" height="79.5" fill="#FF0000"/>
<rect x="859.4" y="1435.9" width="26.8" height="20.9" fill="#0000FF"/>
<rect x="919.5" y="1435.9" width="26.8" height="36.5" fill="#0000FF"/>
<rect x="979.6" y="1372.7" width="26.8" height="63.2" fill="#FF0000"/>
<rect x="1039.6" y="1352.5" width="26.8" height="83.4" fill="#FF0000"/>
<rect x="1099.6" y="1435.9" width="26.8" height="65.1" fill="#0000FF"/>
<rect x="1159.7" y="1208.6" width="26.8" height="227.3" fill="#FF0000"/>
<rect x="1219.7" y="1435.9" width="26.8" height="43.6" fill="#0000FF"/>
<rect x="1279.8" y="1398.8" width="26.8" height="37.1" fill="#FF0000"/>
<rect x="1339.8" y="1313.4" width="26.8" height="122.5" fill="#FF0000"/>
<rect x="1399.9" y="1378.6" width="26.8" height="57.3" fill="#FF0000"/>
<rect x="1459.9" y="1412.5" width="26.8" height="23.4" fill="#FF0000"/>
<rect x="1520.0" y="1435.9" width="26.8" height="41.7" fill="#0000FF"/>
<rect x="1580.0" y="1435.9" width="26.8" height="81.5" fill="#0000FF"/>
<rect x="1640.1" y="1392.3" width="26.8" height="43.6" fill="#FF0000"/>
<rect x="1700.1" y="1435.9" width="26.8" height="82.7" fill="#0000FF"/>
<rect x="1760.2" y="1432.6" width="26.8" height="3.3" fill="#FF0000"/>
<rect x="1820.2" y="1435.9" width="26.8" height="17.6" fill="#0000FF"/>
<rect x="1880.3" y="1435.9" width="26.8" height="102.9" fill="#0000FF"/>
<rect x="1940.3" y="1435.9" width="26.8" height="73.6" fill="#0000FF"/>
<rect x="2000.4" y="1339.5" width="26.8" height="96.4" fill="#FF0000"/>
<rect x="2060.4" y="1412.5" width="26.8" height="23.4" fill="#FF0000"/>
<rect x="2120.5" y="1435.9" width="26.8" height="54.1" fill="#0000FF"/>
<rect x="2180.5" y="1435.9" width="26.8" height="28.7" fill="#0000FF"/>
<rect x="2240.6" y="1435.9" width="26.8" height="11.7" fill="#0000FF"/>
</g>
<g id="b-axes" stroke="#000" fill="none">
<line x1="213.55" x2="2314.4" y1="1435.9" y2="1435.9" stroke-width="2.6"/>
<rect x="213.55" y="1172.7" width="2100.8" height="394.8" stroke-width="8.9"/>
<line x1="199.5" x2="213.55" y1="1567.5" y2="1567.5" stroke-width="7" stroke-linecap="round"/>
<line x1="203.5" x2="213.55" y1="1554.3" y2="1554.3" stroke-width="5" stroke-linecap="round"/>
<line x1="203.5" x2="213.55" y1="1541.2" y2="1541.2" stroke-width="5" stroke-linecap="round"/>
<line x1="203.5" x2="213.55" y1="1528.0" y2="1528.0" stroke-width="5" stroke-linecap="round"/>
<line x1="203.5" x2="213.55" y1="1514.9" y2="1514.9" stroke-width="5" stroke-linecap="round"/>
<line x1="199.5" x2="213.55" y1="1501.7" y2="1501.7" stroke-width="7" stroke-linecap="round"/>
<line x1="203.5" x2="213.55" y1="1488.5" y2="1488.5" stroke-width="5" stroke-linecap="round"/>
<line x1="203.5" x2="213.55" y1="1475.4" y2="1475.4" stroke-width="5" stroke-linecap="round"/>
<line x1="203.5" x2="213.55" y1="1462.2" y2="1462.2" stroke-width="5" stroke-linecap="round"/>
<line x1="203.5" x2="213.55" y1="1449.1" y2="1449.1" stroke-width="5" stroke-linecap="round"/>
<line x1="199.5" x2="213.55" y1="1435.9" y2="1435.9" stroke-width="7" stroke-linecap="round"/>
<line x1="203.5" x2="213.55" y1="1422.7" y2="1422.7" stroke-width="5" stroke-linecap="round"/>
<line x1="203.5" x2="213.55" y1="1409.6" y2="1409.6" stroke-width="5" stroke-linecap="round"/>
<line x1="203.5" x2="213.55" y1="1396.4" y2="1396.4" stroke-width="5" stroke-linecap="round"/>
<line x1="203.5" x2="213.55" y1="1383.3" y2="1383.3" stroke-width="5" stroke-linecap="round"/>
<line x1="199.5" x2="213.55" y1="1370.1" y2="1370.1" stroke-width="7" stroke-linecap="round"/>
<line x1="203.5" x2="213.55" y1="1356.9" y2="1356.9" stroke-width="5" stroke-linecap="round"/>
<line x1="203.5" x2="213.55" y1="1343.8" y2="1343.8" stroke-width="5" stroke-linecap="round"/>
<line x1="203.5" x2="213.55" y1="1330.6" y2="1330.6" stroke-width="5" stroke-linecap="round"/>
<line x1="203.5" x2="213.55" y1="1317.5" y2="1317.5" stroke-width="5" stroke-linecap="round"/>
<line x1="199.5" x2="213.55" y1="1304.3" y2="1304.3" stroke-width="7" stroke-linecap="round"/>
<line x1="203.5" x2="213.55" y1="1291.1" y2="1291.1" stroke-width="5" stroke-linecap="round"/>
<line x1="203.5" x2="213.55" y1="1278.0" y2="1278.0" stroke-width="5" stroke-linecap="round"/>
<line x1="203.5" x2="213.55" y1="1264.8" y2="1264.8" stroke-width="5" stroke-linecap="round"/>
<line x1="203.5" x2="213.55" y1="1251.7" y2="1251.7" stroke-width="5" stroke-linecap="round"/>
<line x1="199.5" x2="213.55" y1="1238.5" y2="1238.5" stroke-width="7" stroke-linecap="round"/>
<line x1="203.5" x2="213.55" y1="1225.3" y2="1225.3" stroke-width="5" stroke-linecap="round"/>
<line x1="203.5" x2="213.55" y1="1212.2" y2="1212.2" stroke-width="5" stroke-linecap="round"/>
<line x1="203.5" x2="213.55" y1="1199.0" y2="1199.0" stroke-width="5" stroke-linecap="round"/>
<line x1="203.5" x2="213.55" y1="1185.9" y2="1185.9" stroke-width="5" stroke-linecap="round"/>
<line x1="199.5" x2="213.55" y1="1172.7" y2="1172.7" stroke-width="7" stroke-linecap="round"/>
<line x1="272.4" x2="272.4" y1="1567.5" y2="1576.5" stroke-width="4.8" stroke-linecap="round"/>
<line x1="332.4" x2="332.4" y1="1567.5" y2="1576.5" stroke-width="4.8" stroke-linecap="round"/>
<line x1="392.4" x2="392.4" y1="1567.5" y2="1576.5" stroke-width="4.8" stroke-linecap="round"/>
<line x1="452.5" x2="452.5" y1="1567.5" y2="1580.5" stroke-width="6.8" stroke-linecap="round"/>
<line x1="512.5" x2="512.5" y1="1567.5" y2="1576.5" stroke-width="4.8" stroke-linecap="round"/>
<line x1="572.6" x2="572.6" y1="1567.5" y2="1576.5" stroke-width="4.8" stroke-linecap="round"/>
<line x1="632.6" x2="632.6" y1="1567.5" y2="1576.5" stroke-width="4.8" stroke-linecap="round"/>
<line x1="692.7" x2="692.7" y1="1567.5" y2="1576.5" stroke-width="4.8" stroke-linecap="round"/>
<line x1="752.8" x2="752.8" y1="1567.5" y2="1580.5" stroke-width="6.8" stroke-linecap="round"/>
<line x1="812.8" x2="812.8" y1="1567.5" y2="1576.5" stroke-width="4.8" stroke-linecap="round"/>
<line x1="872.8" x2="872.8" y1="1567.5" y2="1576.5" stroke-width="4.8" stroke-linecap="round"/>
<line x1="932.9" x2="932.9" y1="1567.5" y2="1576.5" stroke-width="4.8" stroke-linecap="round"/>
<line x1="993.0" x2="993.0" y1="1567.5" y2="1576.5" stroke-width="4.8" stroke-linecap="round"/>
<line x1="1053.0" x2="1053.0" y1="1567.5" y2="1580.5" stroke-width="6.8" stroke-linecap="round"/>
<line x1="1113.0" x2="1113.0" y1="1567.5" y2="1576.5" stroke-width="4.8" stroke-linecap="round"/>
<line x1="1173.1" x2="1173.1" y1="1567.5" y2="1576.5" stroke-width="4.8" stroke-linecap="round"/>
<line x1="1233.1" x2="1233.1" y1="1567.5" y2="1576.5" stroke-width="4.8" stroke-linecap="round"/>
<line x1="1293.2" x2="1293.2" y1="1567.5" y2="1576.5" stroke-width="4.8" stroke-linecap="round"/>
<line x1="1353.2" x2="1353.2" y1="1567.5" y2="1580.5" stroke-width="6.8" stroke-linecap="round"/>
<line x1="1413.3" x2="1413.3" y1="1567.5" y2="1576.5" stroke-width="4.8" stroke-linecap="round"/>
<line x1="1473.3" x2="1473.3" y1="1567.5" y2="1576.5" stroke-width="4.8" stroke-linecap="round"/>
<line x1="1533.4" x2="1533.4" y1="1567.5" y2="1576.5" stroke-width="4.8" stroke-linecap="round"/>
<line x1="1593.4" x2="1593.4" y1="1567.5" y2="1576.5" stroke-width="4.8" stroke-linecap="round"/>
<line x1="1653.5" x2="1653.5" y1="1567.5" y2="1580.5" stroke-width="6.8" stroke-linecap="round"/>
<line x1="1713.5" x2="1713.5" y1="1567.5" y2="1576.5" stroke-width="4.8" stroke-linecap="round"/>
<line x1="1773.6" x2="1773.6" y1="1567.5" y2="1576.5" stroke-width="4.8" stroke-linecap="round"/>
<line x1="1833.6" x2="1833.6" y1="1567.5" y2="1576.5" stroke-width="4.8" stroke-linecap="round"/>
<line x1="1893.7" x2="1893.7" y1="1567.5" y2="1576.5" stroke-width="4.8" stroke-linecap="round"/>
<line x1="1953.7" x2="1953.7" y1="1567.5" y2="1580.5" stroke-width="6.8" stroke-linecap="round"/>
<line x1="2013.8" x2="2013.8" y1="1567.5" y2="1576.5" stroke-width="4.8" stroke-linecap="round"/>
<line x1="2073.8" x2="2073.8" y1="1567.5" y2="1576.5" stroke-width="4.8" stroke-linecap="round"/>
<line x1="2133.9" x2="2133.9" y1="1567.5" y2="1576.5" stroke-width="4.8" stroke-linecap="round"/>
<line x1="2193.9" x2="2193.9" y1="1567.5" y2="1576.5" stroke-width="4.8" stroke-linecap="round"/>
<line x1="2254.0" x2="2254.0" y1="1567.5" y2="1580.5" stroke-width="6.8" stroke-linecap="round"/>
</g>
<g id="b-labels" font-family="Liberation Sans, Arial, Helvetica, sans-serif" font-weight="bold" fill="#000" stroke="#000" stroke-linejoin="miter" style="font-kerning:none;font-variant-ligatures:none">
<text transform="translate(101.3 1193.0) scale(0.950 1)" font-size="59.8" stroke-width="1.8">4.0</text>
<text transform="translate(101.3 1258.8) scale(0.950 1)" font-size="59.8" stroke-width="1.8">3.0</text>
<text transform="translate(101.3 1324.6) scale(0.950 1)" font-size="59.8" stroke-width="1.8">2.0</text>
<text transform="translate(101.3 1390.4) scale(0.950 1)" font-size="59.8" stroke-width="1.8">1.0</text><path fill="#fff" stroke="none" d="M102.7 1382.4H113.6V1392.3H102.7ZM123.2 1382.4H133.4V1392.3H123.2Z"/>
<text transform="translate(101.3 1456.2) scale(0.950 1)" font-size="59.8" stroke-width="1.8">0.0</text>
<text transform="translate(82.3 1522.0) scale(0.950 1)" font-size="59.8" stroke-width="1.8">-1.0</text><path fill="#fff" stroke="none" d="M102.7 1514.0H113.6V1523.9H102.7ZM123.2 1514.0H133.4V1523.9H123.2Z"/>
<text transform="translate(82.3 1587.8) scale(0.950 1)" font-size="59.8" stroke-width="1.8">-2.0</text>
<text transform="translate(388.6 1641.6) scale(1.069 1)" font-size="54.0" stroke-width="1.6">1985</text><path fill="#fff" stroke="none" d="M390.2 1634.3H401.3V1643.4H390.2ZM410.8 1634.3H421.2V1643.4H410.8Z"/>
<text transform="translate(688.8 1641.6) scale(1.076 1)" font-size="54.0" stroke-width="1.6">1990</text><path fill="#fff" stroke="none" d="M690.4 1634.3H701.6V1643.4H690.4ZM711.2 1634.3H721.6V1643.4H711.2Z"/>
<text transform="translate(989.1 1641.6) scale(1.069 1)" font-size="54.0" stroke-width="1.6">1995</text><path fill="#fff" stroke="none" d="M990.7 1634.3H1001.8V1643.4H990.7ZM1011.3 1634.3H1021.7V1643.4H1011.3Z"/>
<text transform="translate(1291.3 1641.6) scale(1.059 1)" font-size="54.0" stroke-width="1.6">2000</text>
<text transform="translate(1591.6 1641.6) scale(1.052 1)" font-size="54.0" stroke-width="1.6">2005</text>
<text transform="translate(1891.8 1641.6) scale(1.059 1)" font-size="54.0" stroke-width="1.6">2010</text><path fill="#fff" stroke="none" d="M1957.0 1634.3H1968.0V1643.4H1957.0ZM1977.4 1634.3H1987.7V1643.4H1977.4Z"/>
<text transform="translate(2192.1 1641.6) scale(1.052 1)" font-size="54.0" stroke-width="1.6">2015</text><path fill="#fff" stroke="none" d="M2256.8 1634.3H2267.8V1643.4H2256.8ZM2277.2 1634.3H2287.4V1643.4H2277.2Z"/>
<text transform="translate(210.8 1114.4) scale(0.970 1)" font-size="80.5" stroke-width="2.4">(b) NDVI AMJ EOFts1</text><path fill="#fff" stroke="none" d="M959.2 1104.0H973.9V1116.6H959.2ZM987.0 1104.0H1000.6V1116.6H987.0Z"/>
<text transform="translate(1180.2 1755.8) scale(0.944 1)" font-size="81.0" stroke-width="2.4">Year</text>
</g>
<g id="c-bars" fill="#04AD10">
<rect x="312.8" y="2310.2" width="120" height="119.2" rx="1.5"/>
<rect x="474.5" y="2312.4" width="120" height="117.0" rx="1.5"/>
<rect x="636.2" y="2298.5" width="120" height="130.9" rx="1.5"/>
<rect x="797.9" y="2238.0" width="120" height="191.4" rx="1.5"/>
<rect x="959.6" y="2105.8" width="120" height="323.6" rx="1.5"/>
<rect x="1121.3" y="1991.2" width="120" height="438.2" rx="1.5"/>
<rect x="1283.0" y="1959.3" width="120" height="470.1" rx="1.5"/>
<rect x="1444.7" y="1977.5" width="120" height="451.9" rx="1.5"/>
<rect x="1606.4" y="2049.8" width="120" height="379.6" rx="1.5"/>
<rect x="1768.1" y="2128.6" width="120" height="300.8" rx="1.5"/>
<rect x="1929.8" y="2245.1" width="120" height="184.3" rx="1.5"/>
<rect x="2091.5" y="2299.2" width="120" height="130.2" rx="1.5"/>
</g>
<g id="c-axes" stroke="#000" fill="none">
<path d="M207.2 1904.6H2312.9M207.2 2429.4H2312.9M211.6 1900.1999999999998V2433.8" stroke-width="8.8"/>
<path d="M2310.4 1904.6V2429.4" stroke-width="5"/>
<line x1="198.4" x2="211" y1="2429.4" y2="2429.4" stroke-width="7" stroke-linecap="round"/>
<line x1="202" x2="211" y1="2414.4" y2="2414.4" stroke-width="6" stroke-linecap="round"/>
<line x1="202" x2="211" y1="2399.4" y2="2399.4" stroke-width="6" stroke-linecap="round"/>
<line x1="202" x2="211" y1="2384.4" y2="2384.4" stroke-width="6" stroke-linecap="round"/>
<line x1="202" x2="211" y1="2369.4" y2="2369.4" stroke-width="6" stroke-linecap="round"/>
<line x1="198.4" x2="211" y1="2354.4" y2="2354.4" stroke-width="7" stroke-linecap="round"/>
<line x1="202" x2="211" y1="2339.4" y2="2339.4" stroke-width="6" stroke-linecap="round"/>
<line x1="202" x2="211" y1="2324.4" y2="2324.4" stroke-width="6" stroke-linecap="round"/>
<line x1="202" x2="211" y1="2309.4" y2="2309.4" stroke-width="6" stroke-linecap="round"/>
<line x1="202" x2="211" y1="2294.5" y2="2294.5" stroke-width="6" stroke-linecap="round"/>
<line x1="198.4" x2="211" y1="2279.5" y2="2279.5" stroke-width="7" stroke-linecap="round"/>
<line x1="202" x2="211" y1="2264.5" y2="2264.5" stroke-width="6" stroke-linecap="round"/>
<line x1="202" x2="211" y1="2249.5" y2="2249.5" stroke-width="6" stroke-linecap="round"/>
<line x1="202" x2="211" y1="2234.5" y2="2234.5" stroke-width="6" stroke-linecap="round"/>
<line x1="202" x2="211" y1="2219.5" y2="2219.5" stroke-width="6" stroke-linecap="round"/>
<line x1="198.4" x2="211" y1="2204.5" y2="2204.5" stroke-width="7" stroke-linecap="round"/>
<line x1="202" x2="211" y1="2189.5" y2="2189.5" stroke-width="6" stroke-linecap="round"/>
<line x1="202" x2="211" y1="2174.5" y2="2174.5" stroke-width="6" stroke-linecap="round"/>
<line x1="202" x2="211" y1="2159.5" y2="2159.5" stroke-width="6" stroke-linecap="round"/>
<line x1="202" x2="211" y1="2144.5" y2="2144.5" stroke-width="6" stroke-linecap="round"/>
<line x1="198.4" x2="211" y1="2129.5" y2="2129.5" stroke-width="7" stroke-linecap="round"/>
<line x1="202" x2="211" y1="2114.5" y2="2114.5" stroke-width="6" stroke-linecap="round"/>
<line x1="202" x2="211" y1="2099.5" y2="2099.5" stroke-width="6" stroke-linecap="round"/>
<line x1="202" x2="211" y1="2084.5" y2="2084.5" stroke-width="6" stroke-linecap="round"/>
<line x1="202" x2="211" y1="2069.5" y2="2069.5" stroke-width="6" stroke-linecap="round"/>
<line x1="198.4" x2="211" y1="2054.5" y2="2054.5" stroke-width="7" stroke-linecap="round"/>
<line x1="202" x2="211" y1="2039.5" y2="2039.5" stroke-width="6" stroke-linecap="round"/>
<line x1="202" x2="211" y1="2024.6" y2="2024.6" stroke-width="6" stroke-linecap="round"/>
<line x1="202" x2="211" y1="2009.6" y2="2009.6" stroke-width="6" stroke-linecap="round"/>
<line x1="202" x2="211" y1="1994.6" y2="1994.6" stroke-width="6" stroke-linecap="round"/>
<line x1="198.4" x2="211" y1="1979.6" y2="1979.6" stroke-width="7" stroke-linecap="round"/>
<line x1="202" x2="211" y1="1964.6" y2="1964.6" stroke-width="6" stroke-linecap="round"/>
<line x1="202" x2="211" y1="1949.6" y2="1949.6" stroke-width="6" stroke-linecap="round"/>
<line x1="202" x2="211" y1="1934.6" y2="1934.6" stroke-width="6" stroke-linecap="round"/>
<line x1="202" x2="211" y1="1919.6" y2="1919.6" stroke-width="6" stroke-linecap="round"/>
<line x1="198.4" x2="211" y1="1904.6" y2="1904.6" stroke-width="7" stroke-linecap="round"/>
<line x1="371.5" x2="371.5" y1="2429.4" y2="2441" stroke-width="5" stroke-linecap="round"/>
<line x1="533.2" x2="533.2" y1="2429.4" y2="2441" stroke-width="5" stroke-linecap="round"/>
<line x1="694.9" x2="694.9" y1="2429.4" y2="2441" stroke-width="5" stroke-linecap="round"/>
<line x1="856.6" x2="856.6" y1="2429.4" y2="2441" stroke-width="5" stroke-linecap="round"/>
<line x1="1018.3" x2="1018.3" y1="2429.4" y2="2441" stroke-width="5" stroke-linecap="round"/>
<line x1="1180.0" x2="1180.0" y1="2429.4" y2="2441" stroke-width="5" stroke-linecap="round"/>
<line x1="1341.7" x2="1341.7" y1="2429.4" y2="2441" stroke-width="5" stroke-linecap="round"/>
<line x1="1503.4" x2="1503.4" y1="2429.4" y2="2441" stroke-width="5" stroke-linecap="round"/>
<line x1="1665.1" x2="1665.1" y1="2429.4" y2="2441" stroke-width="5" stroke-linecap="round"/>
<line x1="1826.8" x2="1826.8" y1="2429.4" y2="2441" stroke-width="5" stroke-linecap="round"/>
<line x1="1988.5" x2="1988.5" y1="2429.4" y2="2441" stroke-width="5" stroke-linecap="round"/>
<line x1="2150.2" x2="2150.2" y1="2429.4" y2="2441" stroke-width="5" stroke-linecap="round"/>
</g>
<g id="c-labels" font-family="Liberation Sans, Arial, Helvetica, sans-serif" font-weight="bold" fill="#000" stroke="#000" stroke-linejoin="miter" style="font-kerning:none;font-variant-ligatures:none">
<text transform="translate(50.9 2452.6) scale(0.944 1)" font-size="68.3" stroke-width="2.0">0.00</text>
<text transform="translate(50.9 2377.6) scale(0.944 1)" font-size="68.3" stroke-width="2.0">0.10</text><path fill="#fff" stroke="none" d="M106.4 2368.6H118.7V2379.6H106.4ZM129.6 2368.6H141.0V2379.6H129.6Z"/>
<text transform="translate(50.9 2302.6) scale(0.944 1)" font-size="68.3" stroke-width="2.0">0.20</text>
<text transform="translate(50.9 2227.7) scale(0.944 1)" font-size="68.3" stroke-width="2.0">0.30</text>
<text transform="translate(50.9 2152.7) scale(0.944 1)" font-size="68.3" stroke-width="2.0">0.40</text>
<text transform="translate(50.9 2077.7) scale(0.944 1)" font-size="68.3" stroke-width="2.0">0.50</text>
<text transform="translate(50.9 2002.7) scale(0.944 1)" font-size="68.3" stroke-width="2.0">0.60</text>
<text transform="translate(50.9 1927.8) scale(0.944 1)" font-size="68.3" stroke-width="2.0">0.70</text>
<text transform="translate(319.1 2513.3) scale(0.949 1)" font-size="66.8" stroke-width="2.0">Jan</text>
<text transform="translate(476.1 2513.3) scale(0.962 1)" font-size="66.8" stroke-width="2.0">Feb</text>
<text transform="translate(637.2 2513.3) scale(0.957 1)" font-size="66.8" stroke-width="2.0">Mar</text>
<text transform="translate(803.2 2513.3) scale(0.937 1)" font-size="66.8" stroke-width="2.0">Apr</text>
<text transform="translate(955.7 2513.3) scale(0.945 1)" font-size="66.8" stroke-width="2.0">May</text>
<text transform="translate(1126.9 2513.3) scale(0.933 1)" font-size="66.8" stroke-width="2.0">Jun</text>
<text transform="translate(1298.6 2513.3) scale(0.945 1)" font-size="66.8" stroke-width="2.0">Jul</text>
<text transform="translate(1443.1 2513.3) scale(0.962 1)" font-size="66.8" stroke-width="2.0">Aug</text>
<text transform="translate(1605.8 2513.3) scale(0.988 1)" font-size="66.8" stroke-width="2.0">Sep</text>
<text transform="translate(1772.6 2513.3) scale(0.971 1)" font-size="66.8" stroke-width="2.0">Oct</text>
<text transform="translate(1926.9 2513.3) scale(0.958 1)" font-size="66.8" stroke-width="2.0">Nov</text>
<text transform="translate(2089.7 2513.3) scale(0.980 1)" font-size="66.8" stroke-width="2.0">Dec</text>
<text transform="translate(208.2 1848.9) scale(0.961 1)" font-size="80.5" stroke-width="2.4">(c) NDVI monthly</text>
<text transform="translate(1942.4 1864.2) scale(0.964 1)" font-size="80.5" stroke-width="2.4">1982-2015</text><path fill="#fff" stroke="none" d="M1944.7 1853.8H1959.3V1866.4H1944.7ZM1972.4 1853.8H1985.9V1866.4H1972.4Z"/><path fill="#fff" stroke="none" d="M2229.5 1853.8H2244.1V1866.4H2229.5ZM2257.1 1853.8H2270.7V1866.4H2257.1Z"/>
</g>
</svg>
</body></html>
